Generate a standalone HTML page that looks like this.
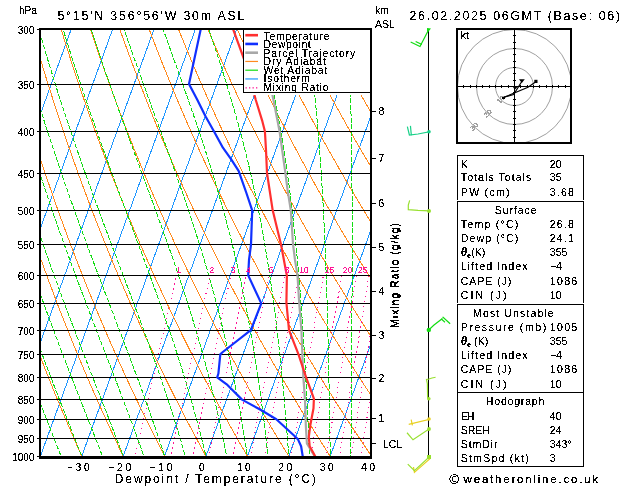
<!DOCTYPE html>
<html><head><meta charset="utf-8"><style>html,body{margin:0;padding:0;background:#fff;overflow:hidden}</style></head><body>
<svg width="629" height="486" viewBox="0 0 629 486" style="display:block">
<defs><filter id="crisp" filterUnits="userSpaceOnUse" x="0" y="0" width="629" height="486" color-interpolation-filters="sRGB"><feComponentTransfer><feFuncA type="discrete" tableValues="0 0 1 1 1"/></feComponentTransfer></filter><filter id="crisp2" x="-20%" y="-50%" width="140%" height="200%" color-interpolation-filters="sRGB"><feComponentTransfer><feFuncA type="discrete" tableValues="0 0 0 1 1 1 1 1 1 1"/></feComponentTransfer></filter><clipPath id="pc"><rect x="41" y="30" width="329" height="426"/></clipPath></defs>
<rect width="629" height="486" fill="#fff"/>
<g clip-path="url(#pc)" fill="none" shape-rendering="crispEdges">
<g stroke="#1e96ff" stroke-width="1"><line x1="-297.08" y1="473.50" x2="-126.97" y2="4.93"/><line x1="-255.68" y1="473.50" x2="-85.57" y2="4.93"/><line x1="-214.28" y1="473.50" x2="-44.17" y2="4.93"/><line x1="-172.88" y1="473.50" x2="-2.77" y2="4.93"/><line x1="-131.48" y1="473.50" x2="38.63" y2="4.93"/><line x1="-90.08" y1="473.50" x2="80.03" y2="4.93"/><line x1="-48.68" y1="473.50" x2="121.43" y2="4.93"/><line x1="-7.28" y1="473.50" x2="162.83" y2="4.93"/><line x1="34.12" y1="473.50" x2="204.23" y2="4.93"/><line x1="75.52" y1="473.50" x2="245.63" y2="4.93"/><line x1="116.92" y1="473.50" x2="287.03" y2="4.93"/><line x1="158.32" y1="473.50" x2="328.43" y2="4.93"/><line x1="199.72" y1="473.50" x2="369.83" y2="4.93"/><line x1="241.12" y1="473.50" x2="411.23" y2="4.93"/><line x1="282.52" y1="473.50" x2="452.63" y2="4.93"/><line x1="323.92" y1="473.50" x2="494.03" y2="4.93"/><line x1="365.32" y1="473.50" x2="535.43" y2="4.93"/></g>
<g stroke="#ff8a1e" stroke-width="1"><polyline points="-162.24,473.50 -163.24,469.56 -164.24,465.62 -165.23,461.68 -166.22,457.75 -167.19,453.81 -168.16,449.87 -169.12,445.93 -170.07,442.00 -171.02,438.06 -171.96,434.12 -172.89,430.18 -173.81,426.25 -174.73,422.31 -175.63,418.37 -176.53,414.43 -177.43,410.50 -178.31,406.56 -179.19,402.62 -180.06,398.68 -180.93,394.75 -181.78,390.81 -182.63,386.87 -183.48,382.93 -184.31,379.00 -185.14,375.06 -185.96,371.12 -186.77,367.18 -187.58,363.25 -188.38,359.31 -189.17,355.37 -189.96,351.43 -190.74,347.50 -191.51,343.56 -192.27,339.62 -193.03,335.68 -193.78,331.75 -194.52,327.81 -195.26,323.87 -195.99,319.93 -196.71,316.00 -197.43,312.06 -198.14,308.12 -198.84,304.18 -199.54,300.25 -200.23,296.31 -200.91,292.37 -201.58,288.43 -202.25,284.50 -202.92,280.56 -203.57,276.62 -204.22,272.68 -204.86,268.75 -205.50,264.81 -206.13,260.87 -206.75,256.93 -207.37,253.00 -207.98,249.06 -208.58,245.12 -209.18,241.18 -209.77,237.25 -210.35,233.31 -210.93,229.37 -211.50,225.43 -212.07,221.50 -212.63,217.56 -213.18,213.62 -213.72,209.68 -214.26,205.75 -214.80,201.81 -215.33,197.87 -215.85,193.93 -216.36,190.00 -216.87,186.06 -217.37,182.12 -217.87,178.18 -218.36,174.25 -218.85,170.31 -219.32,166.37 -219.80,162.43 -220.26,158.50 -220.72,154.56 -221.18,150.62 -221.63,146.68 -222.07,142.75 -222.51,138.81 -222.94,134.87 -223.36,130.93 -223.78,127.00 -224.19,123.06 -224.60,119.12 -225.00,115.18 -225.40,111.25 -225.79,107.31 -226.17,103.37 -226.55,99.43 -226.92,95.50 -227.29,91.56 -227.65,87.62 -228.00,83.68 -228.35,79.75 -228.70,75.81 -229.04,71.87 -229.37,67.93 -229.70,64.00 -230.02,60.06 -230.34,56.12 -230.65,52.18 -230.95,48.25 -231.25,44.31 -231.55,40.37 -231.83,36.43 -232.12,32.50 -232.40,28.56 -232.67,24.62 -232.94,20.68 -233.20,16.75 -233.45,12.81 -233.70,8.87 -233.95,4.93"/><polyline points="-120.25,473.50 -121.39,469.56 -122.53,465.62 -123.65,461.68 -124.76,457.75 -125.87,453.81 -126.97,449.87 -128.06,445.93 -129.14,442.00 -130.22,438.06 -131.29,434.12 -132.35,430.18 -133.40,426.25 -134.44,422.31 -135.48,418.37 -136.51,414.43 -137.53,410.50 -138.54,406.56 -139.54,402.62 -140.54,398.68 -141.53,394.75 -142.51,390.81 -143.48,386.87 -144.45,382.93 -145.41,379.00 -146.36,375.06 -147.30,371.12 -148.24,367.18 -149.17,363.25 -150.09,359.31 -151.00,355.37 -151.91,351.43 -152.81,347.50 -153.70,343.56 -154.58,339.62 -155.46,335.68 -156.33,331.75 -157.19,327.81 -158.05,323.87 -158.90,319.93 -159.74,316.00 -160.57,312.06 -161.40,308.12 -162.21,304.18 -163.03,300.25 -163.83,296.31 -164.63,292.37 -165.42,288.43 -166.20,284.50 -166.98,280.56 -167.75,276.62 -168.51,272.68 -169.27,268.75 -170.02,264.81 -170.76,260.87 -171.49,256.93 -172.22,253.00 -172.94,249.06 -173.66,245.12 -174.36,241.18 -175.07,237.25 -175.76,233.31 -176.45,229.37 -177.13,225.43 -177.80,221.50 -178.47,217.56 -179.13,213.62 -179.78,209.68 -180.43,205.75 -181.07,201.81 -181.71,197.87 -182.33,193.93 -182.96,190.00 -183.57,186.06 -184.18,182.12 -184.78,178.18 -185.38,174.25 -185.97,170.31 -186.55,166.37 -187.12,162.43 -187.69,158.50 -188.26,154.56 -188.82,150.62 -189.37,146.68 -189.91,142.75 -190.45,138.81 -190.98,134.87 -191.51,130.93 -192.03,127.00 -192.54,123.06 -193.05,119.12 -193.55,115.18 -194.05,111.25 -194.53,107.31 -195.02,103.37 -195.49,99.43 -195.97,95.50 -196.43,91.56 -196.89,87.62 -197.34,83.68 -197.79,79.75 -198.23,75.81 -198.66,71.87 -199.09,67.93 -199.52,64.00 -199.93,60.06 -200.35,56.12 -200.75,52.18 -201.15,48.25 -201.55,44.31 -201.93,40.37 -202.32,36.43 -202.69,32.50 -203.06,28.56 -203.43,24.62 -203.79,20.68 -204.14,16.75 -204.49,12.81 -204.84,8.87 -205.17,4.93"/><polyline points="-78.27,473.50 -79.55,469.56 -80.81,465.62 -82.07,461.68 -83.31,457.75 -84.55,453.81 -85.78,449.87 -87.00,445.93 -88.22,442.00 -89.42,438.06 -90.62,434.12 -91.81,430.18 -92.99,426.25 -94.16,422.31 -95.32,418.37 -96.48,414.43 -97.62,410.50 -98.76,406.56 -99.89,402.62 -101.01,398.68 -102.13,394.75 -103.24,390.81 -104.33,386.87 -105.42,382.93 -106.51,379.00 -107.58,375.06 -108.65,371.12 -109.71,367.18 -110.76,363.25 -111.80,359.31 -112.83,355.37 -113.86,351.43 -114.88,347.50 -115.89,343.56 -116.90,339.62 -117.89,335.68 -118.88,331.75 -119.86,327.81 -120.84,323.87 -121.80,319.93 -122.76,316.00 -123.71,312.06 -124.65,308.12 -125.59,304.18 -126.52,300.25 -127.44,296.31 -128.35,292.37 -129.26,288.43 -130.15,284.50 -131.04,280.56 -131.93,276.62 -132.80,272.68 -133.67,268.75 -134.53,264.81 -135.39,260.87 -136.24,256.93 -137.08,253.00 -137.91,249.06 -138.73,245.12 -139.55,241.18 -140.36,237.25 -141.17,233.31 -141.96,229.37 -142.75,225.43 -143.54,221.50 -144.31,217.56 -145.08,213.62 -145.84,209.68 -146.60,205.75 -147.35,201.81 -148.09,197.87 -148.82,193.93 -149.55,190.00 -150.27,186.06 -150.98,182.12 -151.69,178.18 -152.39,174.25 -153.09,170.31 -153.77,166.37 -154.45,162.43 -155.13,158.50 -155.79,154.56 -156.45,150.62 -157.11,146.68 -157.75,142.75 -158.39,138.81 -159.03,134.87 -159.65,130.93 -160.28,127.00 -160.89,123.06 -161.50,119.12 -162.10,115.18 -162.69,111.25 -163.28,107.31 -163.86,103.37 -164.44,99.43 -165.01,95.50 -165.57,91.56 -166.13,87.62 -166.68,83.68 -167.22,79.75 -167.76,75.81 -168.29,71.87 -168.82,67.93 -169.34,64.00 -169.85,60.06 -170.36,56.12 -170.86,52.18 -171.35,48.25 -171.84,44.31 -172.32,40.37 -172.80,36.43 -173.27,32.50 -173.73,28.56 -174.19,24.62 -174.64,20.68 -175.09,16.75 -175.53,12.81 -175.97,8.87 -176.39,4.93"/><polyline points="-36.29,473.50 -37.70,469.56 -39.09,465.62 -40.48,461.68 -41.86,457.75 -43.23,453.81 -44.59,449.87 -45.94,445.93 -47.29,442.00 -48.62,438.06 -49.95,434.12 -51.26,430.18 -52.57,426.25 -53.87,422.31 -55.16,418.37 -56.45,414.43 -57.72,410.50 -58.98,406.56 -60.24,402.62 -61.49,398.68 -62.73,394.75 -63.96,390.81 -65.18,386.87 -66.40,382.93 -67.60,379.00 -68.80,375.06 -69.99,371.12 -71.17,367.18 -72.34,363.25 -73.51,359.31 -74.67,355.37 -75.81,351.43 -76.95,347.50 -78.09,343.56 -79.21,339.62 -80.33,335.68 -81.43,331.75 -82.53,327.81 -83.62,323.87 -84.71,319.93 -85.78,316.00 -86.85,312.06 -87.91,308.12 -88.96,304.18 -90.01,300.25 -91.04,296.31 -92.07,292.37 -93.09,288.43 -94.10,284.50 -95.11,280.56 -96.11,276.62 -97.10,272.68 -98.08,268.75 -99.05,264.81 -100.02,260.87 -100.98,256.93 -101.93,253.00 -102.87,249.06 -103.81,245.12 -104.74,241.18 -105.66,237.25 -106.57,233.31 -107.48,229.37 -108.38,225.43 -109.27,221.50 -110.16,217.56 -111.03,213.62 -111.90,209.68 -112.77,205.75 -113.62,201.81 -114.47,197.87 -115.31,193.93 -116.14,190.00 -116.97,186.06 -117.79,182.12 -118.60,178.18 -119.41,174.25 -120.21,170.31 -121.00,166.37 -121.78,162.43 -122.56,158.50 -123.33,154.56 -124.09,150.62 -124.85,146.68 -125.60,142.75 -126.34,138.81 -127.07,134.87 -127.80,130.93 -128.52,127.00 -129.24,123.06 -129.95,119.12 -130.65,115.18 -131.34,111.25 -132.03,107.31 -132.71,103.37 -133.38,99.43 -134.05,95.50 -134.71,91.56 -135.37,87.62 -136.02,83.68 -136.66,79.75 -137.29,75.81 -137.92,71.87 -138.54,67.93 -139.16,64.00 -139.77,60.06 -140.37,56.12 -140.96,52.18 -141.55,48.25 -142.14,44.31 -142.71,40.37 -143.28,36.43 -143.85,32.50 -144.40,28.56 -144.95,24.62 -145.50,20.68 -146.04,16.75 -146.57,12.81 -147.10,8.87 -147.62,4.93"/><polyline points="5.69,473.50 4.15,469.56 2.62,465.62 1.10,461.68 -0.41,457.75 -1.91,453.81 -3.40,449.87 -4.89,445.93 -6.36,442.00 -7.82,438.06 -9.28,434.12 -10.72,430.18 -12.16,426.25 -13.59,422.31 -15.01,418.37 -16.42,414.43 -17.82,410.50 -19.21,406.56 -20.59,402.62 -21.97,398.68 -23.33,394.75 -24.69,390.81 -26.03,386.87 -27.37,382.93 -28.70,379.00 -30.02,375.06 -31.33,371.12 -32.64,367.18 -33.93,363.25 -35.22,359.31 -36.50,355.37 -37.77,351.43 -39.03,347.50 -40.28,343.56 -41.52,339.62 -42.76,335.68 -43.98,331.75 -45.20,327.81 -46.41,323.87 -47.61,319.93 -48.81,316.00 -49.99,312.06 -51.17,308.12 -52.34,304.18 -53.50,300.25 -54.65,296.31 -55.79,292.37 -56.93,288.43 -58.05,284.50 -59.17,280.56 -60.28,276.62 -61.39,272.68 -62.48,268.75 -63.57,264.81 -64.65,260.87 -65.72,256.93 -66.78,253.00 -67.84,249.06 -68.89,245.12 -69.93,241.18 -70.96,237.25 -71.98,233.31 -73.00,229.37 -74.01,225.43 -75.01,221.50 -76.00,217.56 -76.99,213.62 -77.96,209.68 -78.93,205.75 -79.90,201.81 -80.85,197.87 -81.80,193.93 -82.74,190.00 -83.67,186.06 -84.59,182.12 -85.51,178.18 -86.42,174.25 -87.32,170.31 -88.22,166.37 -89.11,162.43 -89.99,158.50 -90.86,154.56 -91.73,150.62 -92.59,146.68 -93.44,142.75 -94.28,138.81 -95.12,134.87 -95.95,130.93 -96.77,127.00 -97.59,123.06 -98.39,119.12 -99.20,115.18 -99.99,111.25 -100.78,107.31 -101.56,103.37 -102.33,99.43 -103.10,95.50 -103.85,91.56 -104.61,87.62 -105.35,83.68 -106.09,79.75 -106.82,75.81 -107.55,71.87 -108.26,67.93 -108.98,64.00 -109.68,60.06 -110.38,56.12 -111.07,52.18 -111.75,48.25 -112.43,44.31 -113.10,40.37 -113.76,36.43 -114.42,32.50 -115.07,28.56 -115.72,24.62 -116.35,20.68 -116.99,16.75 -117.61,12.81 -118.23,8.87 -118.84,4.93"/><polyline points="47.67,473.50 46.00,469.56 44.34,465.62 42.68,461.68 41.04,457.75 39.41,453.81 37.79,449.87 36.17,445.93 34.57,442.00 32.98,438.06 31.39,434.12 29.82,430.18 28.25,426.25 26.70,422.31 25.15,418.37 23.61,414.43 22.09,410.50 20.57,406.56 19.06,402.62 17.56,398.68 16.07,394.75 14.59,390.81 13.12,386.87 11.65,382.93 10.20,379.00 8.76,375.06 7.32,371.12 5.90,367.18 4.48,363.25 3.07,359.31 1.67,355.37 0.28,351.43 -1.10,347.50 -2.47,343.56 -3.83,339.62 -5.19,335.68 -6.53,331.75 -7.87,327.81 -9.20,323.87 -10.52,319.93 -11.83,316.00 -13.13,312.06 -14.42,308.12 -15.71,304.18 -16.99,300.25 -18.25,296.31 -19.51,292.37 -20.76,288.43 -22.00,284.50 -23.24,280.56 -24.46,276.62 -25.68,272.68 -26.89,268.75 -28.09,264.81 -29.28,260.87 -30.46,256.93 -31.64,253.00 -32.80,249.06 -33.96,245.12 -35.11,241.18 -36.25,237.25 -37.39,233.31 -38.51,229.37 -39.63,225.43 -40.74,221.50 -41.84,217.56 -42.94,213.62 -44.02,209.68 -45.10,205.75 -46.17,201.81 -47.23,197.87 -48.29,193.93 -49.33,190.00 -50.37,186.06 -51.40,182.12 -52.42,178.18 -53.44,174.25 -54.44,170.31 -55.44,166.37 -56.44,162.43 -57.42,158.50 -58.40,154.56 -59.36,150.62 -60.33,146.68 -61.28,142.75 -62.23,138.81 -63.16,134.87 -64.09,130.93 -65.02,127.00 -65.93,123.06 -66.84,119.12 -67.74,115.18 -68.64,111.25 -69.52,107.31 -70.40,103.37 -71.27,99.43 -72.14,95.50 -73.00,91.56 -73.85,87.62 -74.69,83.68 -75.52,79.75 -76.35,75.81 -77.17,71.87 -77.99,67.93 -78.80,64.00 -79.60,60.06 -80.39,56.12 -81.17,52.18 -81.95,48.25 -82.72,44.31 -83.49,40.37 -84.25,36.43 -85.00,32.50 -85.74,28.56 -86.48,24.62 -87.21,20.68 -87.93,16.75 -88.65,12.81 -89.36,8.87 -90.06,4.93"/><polyline points="89.65,473.50 87.85,469.56 86.05,465.62 84.27,461.68 82.49,457.75 80.73,453.81 78.98,449.87 77.23,445.93 75.50,442.00 73.78,438.06 72.06,434.12 70.36,430.18 68.66,426.25 66.98,422.31 65.31,418.37 63.64,414.43 61.99,410.50 60.34,406.56 58.71,402.62 57.08,398.68 55.47,394.75 53.86,390.81 52.27,386.87 50.68,382.93 49.10,379.00 47.54,375.06 45.98,371.12 44.43,367.18 42.89,363.25 41.36,359.31 39.84,355.37 38.33,351.43 36.83,347.50 35.34,343.56 33.85,339.62 32.38,335.68 30.91,331.75 29.46,327.81 28.01,323.87 26.58,319.93 25.15,316.00 23.73,312.06 22.32,308.12 20.92,304.18 19.53,300.25 18.14,296.31 16.77,292.37 15.40,288.43 14.05,284.50 12.70,280.56 11.36,276.62 10.03,272.68 8.71,268.75 7.40,264.81 6.09,260.87 4.80,256.93 3.51,253.00 2.23,249.06 0.96,245.12 -0.30,241.18 -1.55,237.25 -2.80,233.31 -4.03,229.37 -5.26,225.43 -6.48,221.50 -7.69,217.56 -8.89,213.62 -10.08,209.68 -11.27,205.75 -12.44,201.81 -13.61,197.87 -14.77,193.93 -15.93,190.00 -17.07,186.06 -18.21,182.12 -19.33,178.18 -20.45,174.25 -21.56,170.31 -22.67,166.37 -23.76,162.43 -24.85,158.50 -25.93,154.56 -27.00,150.62 -28.07,146.68 -29.12,142.75 -30.17,138.81 -31.21,134.87 -32.24,130.93 -33.27,127.00 -34.28,123.06 -35.29,119.12 -36.29,115.18 -37.29,111.25 -38.27,107.31 -39.25,103.37 -40.22,99.43 -41.18,95.50 -42.14,91.56 -43.09,87.62 -44.03,83.68 -44.96,79.75 -45.88,75.81 -46.80,71.87 -47.71,67.93 -48.62,64.00 -49.51,60.06 -50.40,56.12 -51.28,52.18 -52.15,48.25 -53.02,44.31 -53.88,40.37 -54.73,36.43 -55.57,32.50 -56.41,28.56 -57.24,24.62 -58.06,20.68 -58.88,16.75 -59.69,12.81 -60.49,8.87 -61.28,4.93"/><polyline points="131.63,473.50 129.69,469.56 127.77,465.62 125.85,461.68 123.95,457.75 122.05,453.81 120.17,449.87 118.29,445.93 116.43,442.00 114.57,438.06 112.73,434.12 110.90,430.18 109.08,426.25 107.27,422.31 105.46,418.37 103.67,414.43 101.89,410.50 100.12,406.56 98.36,402.62 96.61,398.68 94.87,394.75 93.14,390.81 91.42,386.87 89.71,382.93 88.01,379.00 86.32,375.06 84.63,371.12 82.96,367.18 81.30,363.25 79.65,359.31 78.01,355.37 76.38,351.43 74.76,347.50 73.14,343.56 71.54,339.62 69.95,335.68 68.36,331.75 66.79,327.81 65.22,323.87 63.67,319.93 62.12,316.00 60.59,312.06 59.06,308.12 57.54,304.18 56.04,300.25 54.54,296.31 53.05,292.37 51.57,288.43 50.10,284.50 48.63,280.56 47.18,276.62 45.74,272.68 44.30,268.75 42.88,264.81 41.46,260.87 40.05,256.93 38.66,253.00 37.27,249.06 35.89,245.12 34.51,241.18 33.15,237.25 31.80,233.31 30.45,229.37 29.12,225.43 27.79,221.50 26.47,217.56 25.16,213.62 23.86,209.68 22.57,205.75 21.28,201.81 20.01,197.87 18.74,193.93 17.48,190.00 16.23,186.06 14.99,182.12 13.76,178.18 12.53,174.25 11.32,170.31 10.11,166.37 8.91,162.43 7.72,158.50 6.54,154.56 5.36,150.62 4.19,146.68 3.04,142.75 1.89,138.81 0.75,134.87 -0.39,130.93 -1.51,127.00 -2.63,123.06 -3.74,119.12 -4.84,115.18 -5.93,111.25 -7.02,107.31 -8.10,103.37 -9.17,99.43 -10.23,95.50 -11.28,91.56 -12.33,87.62 -13.36,83.68 -14.39,79.75 -15.41,75.81 -16.43,71.87 -17.44,67.93 -18.43,64.00 -19.43,60.06 -20.41,56.12 -21.39,52.18 -22.35,48.25 -23.31,44.31 -24.27,40.37 -25.21,36.43 -26.15,32.50 -27.08,28.56 -28.00,24.62 -28.92,20.68 -29.83,16.75 -30.73,12.81 -31.62,8.87 -32.51,4.93"/><polyline points="173.61,473.50 171.54,469.56 169.48,465.62 167.43,461.68 165.40,457.75 163.37,453.81 161.36,449.87 159.35,445.93 157.36,442.00 155.37,438.06 153.40,434.12 151.44,430.18 149.49,426.25 147.55,422.31 145.62,418.37 143.70,414.43 141.79,410.50 139.90,406.56 138.01,402.62 136.13,398.68 134.27,394.75 132.41,390.81 130.57,386.87 128.73,382.93 126.91,379.00 125.09,375.06 123.29,371.12 121.50,367.18 119.71,363.25 117.94,359.31 116.18,355.37 114.43,351.43 112.68,347.50 110.95,343.56 109.23,339.62 107.52,335.68 105.81,331.75 104.12,327.81 102.44,323.87 100.76,319.93 99.10,316.00 97.45,312.06 95.80,308.12 94.17,304.18 92.55,300.25 90.93,296.31 89.33,292.37 87.73,288.43 86.15,284.50 84.57,280.56 83.00,276.62 81.45,272.68 79.90,268.75 78.36,264.81 76.83,260.87 75.31,256.93 73.80,253.00 72.30,249.06 70.81,245.12 69.33,241.18 67.85,237.25 66.39,233.31 64.94,229.37 63.49,225.43 62.05,221.50 60.63,217.56 59.21,213.62 57.80,209.68 56.40,205.75 55.01,201.81 53.62,197.87 52.25,193.93 50.89,190.00 49.53,186.06 48.18,182.12 46.85,178.18 45.52,174.25 44.20,170.31 42.88,166.37 41.58,162.43 40.29,158.50 39.00,154.56 37.72,150.62 36.46,146.68 35.19,142.75 33.94,138.81 32.70,134.87 31.47,130.93 30.24,127.00 29.02,123.06 27.81,119.12 26.61,115.18 25.42,111.25 24.23,107.31 23.06,103.37 21.89,99.43 20.73,95.50 19.58,91.56 18.44,87.62 17.30,83.68 16.17,79.75 15.05,75.81 13.94,71.87 12.84,67.93 11.75,64.00 10.66,60.06 9.58,56.12 8.51,52.18 7.45,48.25 6.39,44.31 5.34,40.37 4.31,36.43 3.27,32.50 2.25,28.56 1.23,24.62 0.23,20.68 -0.77,16.75 -1.77,12.81 -2.75,8.87 -3.73,4.93"/><polyline points="215.59,473.50 213.39,469.56 211.20,465.62 209.02,461.68 206.85,457.75 204.69,453.81 202.54,449.87 200.41,445.93 198.29,442.00 196.17,438.06 194.07,434.12 191.98,430.18 189.90,426.25 187.83,422.31 185.78,418.37 183.73,414.43 181.70,410.50 179.67,406.56 177.66,402.62 175.66,398.68 173.67,394.75 171.69,390.81 169.72,386.87 167.76,382.93 165.81,379.00 163.87,375.06 161.95,371.12 160.03,367.18 158.13,363.25 156.23,359.31 154.35,355.37 152.47,351.43 150.61,347.50 148.76,343.56 146.92,339.62 145.08,335.68 143.26,331.75 141.45,327.81 139.65,323.87 137.86,319.93 136.08,316.00 134.31,312.06 132.55,308.12 130.80,304.18 129.06,300.25 127.33,296.31 125.61,292.37 123.90,288.43 122.20,284.50 120.50,280.56 118.82,276.62 117.15,272.68 115.49,268.75 113.84,264.81 112.20,260.87 110.57,256.93 108.95,253.00 107.34,249.06 105.73,245.12 104.14,241.18 102.56,237.25 100.98,233.31 99.42,229.37 97.86,225.43 96.32,221.50 94.78,217.56 93.26,213.62 91.74,209.68 90.23,205.75 88.73,201.81 87.24,197.87 85.76,193.93 84.29,190.00 82.83,186.06 81.38,182.12 79.94,178.18 78.50,174.25 77.08,170.31 75.66,166.37 74.25,162.43 72.86,158.50 71.47,154.56 70.09,150.62 68.72,146.68 67.35,142.75 66.00,138.81 64.65,134.87 63.32,130.93 61.99,127.00 60.67,123.06 59.36,119.12 58.06,115.18 56.77,111.25 55.49,107.31 54.21,103.37 52.94,99.43 51.69,95.50 50.44,91.56 49.20,87.62 47.96,83.68 46.74,79.75 45.52,75.81 44.32,71.87 43.12,67.93 41.93,64.00 40.74,60.06 39.57,56.12 38.40,52.18 37.25,48.25 36.10,44.31 34.96,40.37 33.82,36.43 32.70,32.50 31.58,28.56 30.47,24.62 29.37,20.68 28.28,16.75 27.19,12.81 26.12,8.87 25.05,4.93"/><polyline points="257.58,473.50 255.24,469.56 252.91,465.62 250.60,461.68 248.30,457.75 246.01,453.81 243.73,449.87 241.47,445.93 239.21,442.00 236.97,438.06 234.74,434.12 232.52,430.18 230.31,426.25 228.12,422.31 225.93,418.37 223.76,414.43 221.60,410.50 219.45,406.56 217.31,402.62 215.18,398.68 213.07,394.75 210.96,390.81 208.87,386.87 206.79,382.93 204.71,379.00 202.65,375.06 200.60,371.12 198.57,367.18 196.54,363.25 194.52,359.31 192.52,355.37 190.52,351.43 188.54,347.50 186.56,343.56 184.60,339.62 182.65,335.68 180.71,331.75 178.78,327.81 176.86,323.87 174.95,319.93 173.05,316.00 171.17,312.06 169.29,308.12 167.42,304.18 165.57,300.25 163.72,296.31 161.88,292.37 160.06,288.43 158.24,284.50 156.44,280.56 154.65,276.62 152.86,272.68 151.09,268.75 149.32,264.81 147.57,260.87 145.83,256.93 144.09,253.00 142.37,249.06 140.66,245.12 138.95,241.18 137.26,237.25 135.58,233.31 133.90,229.37 132.24,225.43 130.58,221.50 128.94,217.56 127.30,213.62 125.68,209.68 124.06,205.75 122.46,201.81 120.86,197.87 119.28,193.93 117.70,190.00 116.13,186.06 114.57,182.12 113.03,178.18 111.49,174.25 109.96,170.31 108.44,166.37 106.93,162.43 105.42,158.50 103.93,154.56 102.45,150.62 100.98,146.68 99.51,142.75 98.06,138.81 96.61,134.87 95.17,130.93 93.74,127.00 92.32,123.06 90.91,119.12 89.51,115.18 88.12,111.25 86.74,107.31 85.36,103.37 84.00,99.43 82.64,95.50 81.30,91.56 79.96,87.62 78.63,83.68 77.31,79.75 75.99,75.81 74.69,71.87 73.39,67.93 72.11,64.00 70.83,60.06 69.56,56.12 68.30,52.18 67.05,48.25 65.80,44.31 64.57,40.37 63.34,36.43 62.12,32.50 60.91,28.56 59.71,24.62 58.52,20.68 57.33,16.75 56.15,12.81 54.99,8.87 53.83,4.93"/><polyline points="299.56,473.50 297.09,469.56 294.63,465.62 292.18,461.68 289.75,457.75 287.33,453.81 284.92,449.87 282.53,445.93 280.14,442.00 277.77,438.06 275.41,434.12 273.06,430.18 270.73,426.25 268.40,422.31 266.09,418.37 263.79,414.43 261.50,410.50 259.23,406.56 256.96,402.62 254.71,398.68 252.47,394.75 250.24,390.81 248.02,386.87 245.81,382.93 243.62,379.00 241.43,375.06 239.26,371.12 237.10,367.18 234.95,363.25 232.81,359.31 230.69,355.37 228.57,351.43 226.47,347.50 224.37,343.56 222.29,339.62 220.22,335.68 218.16,331.75 216.11,327.81 214.07,323.87 212.05,319.93 210.03,316.00 208.03,312.06 206.03,308.12 204.05,304.18 202.08,300.25 200.11,296.31 198.16,292.37 196.22,288.43 194.29,284.50 192.38,280.56 190.47,276.62 188.57,272.68 186.68,268.75 184.81,264.81 182.94,260.87 181.08,256.93 179.24,253.00 177.40,249.06 175.58,245.12 173.77,241.18 171.96,237.25 170.17,233.31 168.39,229.37 166.61,225.43 164.85,221.50 163.10,217.56 161.35,213.62 159.62,209.68 157.90,205.75 156.18,201.81 154.48,197.87 152.79,193.93 151.11,190.00 149.43,186.06 147.77,182.12 146.12,178.18 144.47,174.25 142.84,170.31 141.21,166.37 139.60,162.43 137.99,158.50 136.40,154.56 134.81,150.62 133.24,146.68 131.67,142.75 130.11,138.81 128.56,134.87 127.03,130.93 125.50,127.00 123.98,123.06 122.47,119.12 120.97,115.18 119.47,111.25 117.99,107.31 116.52,103.37 115.05,99.43 113.60,95.50 112.15,91.56 110.72,87.62 109.29,83.68 107.87,79.75 106.46,75.81 105.06,71.87 103.67,67.93 102.29,64.00 100.91,60.06 99.55,56.12 98.19,52.18 96.85,48.25 95.51,44.31 94.18,40.37 92.86,36.43 91.55,32.50 90.24,28.56 88.95,24.62 87.66,20.68 86.38,16.75 85.11,12.81 83.85,8.87 82.60,4.93"/><polyline points="341.54,473.50 338.94,469.56 336.35,465.62 333.77,461.68 331.20,457.75 328.65,453.81 326.11,449.87 323.59,445.93 321.07,442.00 318.57,438.06 316.08,434.12 313.60,430.18 311.14,426.25 308.69,422.31 306.25,418.37 303.82,414.43 301.41,410.50 299.00,406.56 296.61,402.62 294.23,398.68 291.87,394.75 289.51,390.81 287.17,386.87 284.84,382.93 282.52,379.00 280.21,375.06 277.92,371.12 275.63,367.18 273.36,363.25 271.10,359.31 268.85,355.37 266.62,351.43 264.39,347.50 262.18,343.56 259.98,339.62 257.79,335.68 255.61,331.75 253.44,327.81 251.29,323.87 249.14,319.93 247.01,316.00 244.89,312.06 242.77,308.12 240.68,304.18 238.59,300.25 236.51,296.31 234.44,292.37 232.39,288.43 230.34,284.50 228.31,280.56 226.29,276.62 224.28,272.68 222.28,268.75 220.29,264.81 218.31,260.87 216.34,256.93 214.39,253.00 212.44,249.06 210.50,245.12 208.58,241.18 206.67,237.25 204.76,233.31 202.87,229.37 200.99,225.43 199.11,221.50 197.25,217.56 195.40,213.62 193.56,209.68 191.73,205.75 189.91,201.81 188.10,197.87 186.30,193.93 184.51,190.00 182.73,186.06 180.96,182.12 179.20,178.18 177.46,174.25 175.72,170.31 173.99,166.37 172.27,162.43 170.56,158.50 168.86,154.56 167.17,150.62 165.50,146.68 163.83,142.75 162.17,138.81 160.52,134.87 158.88,130.93 157.25,127.00 155.63,123.06 154.02,119.12 152.42,115.18 150.83,111.25 149.24,107.31 147.67,103.37 146.11,99.43 144.56,95.50 143.01,91.56 141.48,87.62 139.95,83.68 138.44,79.75 136.93,75.81 135.43,71.87 133.95,67.93 132.47,64.00 131.00,60.06 129.54,56.12 128.09,52.18 126.65,48.25 125.21,44.31 123.79,40.37 122.37,36.43 120.97,32.50 119.57,28.56 118.19,24.62 116.81,20.68 115.44,16.75 114.08,12.81 112.72,8.87 111.38,4.93"/><polyline points="383.52,473.50 380.78,469.56 378.06,465.62 375.35,461.68 372.66,457.75 369.97,453.81 367.30,449.87 364.64,445.93 362.00,442.00 359.37,438.06 356.75,434.12 354.15,430.18 351.55,426.25 348.97,422.31 346.41,418.37 343.85,414.43 341.31,410.50 338.78,406.56 336.26,402.62 333.76,398.68 331.27,394.75 328.79,390.81 326.32,386.87 323.86,382.93 321.42,379.00 318.99,375.06 316.57,371.12 314.17,367.18 311.77,363.25 309.39,359.31 307.02,355.37 304.67,351.43 302.32,347.50 299.99,343.56 297.67,339.62 295.36,335.68 293.06,331.75 290.77,327.81 288.50,323.87 286.23,319.93 283.98,316.00 281.74,312.06 279.52,308.12 277.30,304.18 275.10,300.25 272.90,296.31 270.72,292.37 268.55,288.43 266.39,284.50 264.25,280.56 262.11,276.62 259.99,272.68 257.87,268.75 255.77,264.81 253.68,260.87 251.60,256.93 249.53,253.00 247.47,249.06 245.43,245.12 243.39,241.18 241.37,237.25 239.35,233.31 237.35,229.37 235.36,225.43 233.38,221.50 231.41,217.56 229.45,213.62 227.50,209.68 225.56,205.75 223.64,201.81 221.72,197.87 219.81,193.93 217.92,190.00 216.03,186.06 214.16,182.12 212.29,178.18 210.44,174.25 208.60,170.31 206.77,166.37 204.94,162.43 203.13,158.50 201.33,154.56 199.54,150.62 197.76,146.68 195.98,142.75 194.22,138.81 192.47,134.87 190.73,130.93 189.00,127.00 187.28,123.06 185.57,119.12 183.87,115.18 182.18,111.25 180.50,107.31 178.83,103.37 177.16,99.43 175.51,95.50 173.87,91.56 172.24,87.62 170.62,83.68 169.00,79.75 167.40,75.81 165.81,71.87 164.22,67.93 162.65,64.00 161.08,60.06 159.53,56.12 157.98,52.18 156.45,48.25 154.92,44.31 153.40,40.37 151.89,36.43 150.39,32.50 148.90,28.56 147.42,24.62 145.95,20.68 144.49,16.75 143.04,12.81 141.59,8.87 140.16,4.93"/><polyline points="425.50,473.50 422.63,469.56 419.78,465.62 416.93,461.68 414.11,457.75 411.29,453.81 408.49,449.87 405.70,445.93 402.93,442.00 400.17,438.06 397.42,434.12 394.69,430.18 391.97,426.25 389.26,422.31 386.56,418.37 383.88,414.43 381.21,410.50 378.56,406.56 375.91,402.62 373.28,398.68 370.67,394.75 368.06,390.81 365.47,386.87 362.89,382.93 360.32,379.00 357.77,375.06 355.23,371.12 352.70,367.18 350.19,363.25 347.68,359.31 345.19,355.37 342.71,351.43 340.25,347.50 337.79,343.56 335.35,339.62 332.92,335.68 330.51,331.75 328.10,327.81 325.71,323.87 323.33,319.93 320.96,316.00 318.60,312.06 316.26,308.12 313.93,304.18 311.61,300.25 309.30,296.31 307.00,292.37 304.72,288.43 302.44,284.50 300.18,280.56 297.93,276.62 295.69,272.68 293.47,268.75 291.25,264.81 289.05,260.87 286.86,256.93 284.68,253.00 282.51,249.06 280.35,245.12 278.21,241.18 276.07,237.25 273.95,233.31 271.84,229.37 269.73,225.43 267.64,221.50 265.57,217.56 263.50,213.62 261.44,209.68 259.40,205.75 257.36,201.81 255.34,197.87 253.33,193.93 251.32,190.00 249.33,186.06 247.35,182.12 245.38,178.18 243.43,174.25 241.48,170.31 239.54,166.37 237.62,162.43 235.70,158.50 233.79,154.56 231.90,150.62 230.02,146.68 228.14,142.75 226.28,138.81 224.43,134.87 222.59,130.93 220.75,127.00 218.93,123.06 217.12,119.12 215.32,115.18 213.53,111.25 211.75,107.31 209.98,103.37 208.22,99.43 206.47,95.50 204.73,91.56 203.00,87.62 201.28,83.68 199.57,79.75 197.87,75.81 196.18,71.87 194.50,67.93 192.83,64.00 191.17,60.06 189.52,56.12 187.88,52.18 186.25,48.25 184.62,44.31 183.01,40.37 181.41,36.43 179.82,32.50 178.23,28.56 176.66,24.62 175.10,20.68 173.54,16.75 172.00,12.81 170.46,8.87 168.94,4.93"/><polyline points="467.48,473.50 464.48,469.56 461.49,465.62 458.52,461.68 455.56,457.75 452.61,453.81 449.68,449.87 446.76,445.93 443.86,442.00 440.97,438.06 438.09,434.12 435.23,430.18 432.38,426.25 429.54,422.31 426.72,418.37 423.91,414.43 421.11,410.50 418.33,406.56 415.56,402.62 412.81,398.68 410.06,394.75 407.34,390.81 404.62,386.87 401.92,382.93 399.23,379.00 396.55,375.06 393.89,371.12 391.24,367.18 388.60,363.25 385.97,359.31 383.36,355.37 380.76,351.43 378.17,347.50 375.60,343.56 373.04,339.62 370.49,335.68 367.96,331.75 365.43,327.81 362.92,323.87 360.42,319.93 357.94,316.00 355.46,312.06 353.00,308.12 350.55,304.18 348.12,300.25 345.69,296.31 343.28,292.37 340.88,288.43 338.49,284.50 336.12,280.56 333.75,276.62 331.40,272.68 329.06,268.75 326.74,264.81 324.42,260.87 322.12,256.93 319.82,253.00 317.54,249.06 315.28,245.12 313.02,241.18 310.77,237.25 308.54,233.31 306.32,229.37 304.11,225.43 301.91,221.50 299.72,217.56 297.55,213.62 295.38,209.68 293.23,205.75 291.09,201.81 288.96,197.87 286.84,193.93 284.73,190.00 282.63,186.06 280.55,182.12 278.47,178.18 276.41,174.25 274.36,170.31 272.32,166.37 270.29,162.43 268.27,158.50 266.26,154.56 264.26,150.62 262.28,146.68 260.30,142.75 258.34,138.81 256.38,134.87 254.44,130.93 252.51,127.00 250.58,123.06 248.67,119.12 246.77,115.18 244.88,111.25 243.00,107.31 241.13,103.37 239.27,99.43 237.43,95.50 235.59,91.56 233.76,87.62 231.94,83.68 230.14,79.75 228.34,75.81 226.55,71.87 224.78,67.93 223.01,64.00 221.25,60.06 219.51,56.12 217.77,52.18 216.05,48.25 214.33,44.31 212.62,40.37 210.93,36.43 209.24,32.50 207.56,28.56 205.90,24.62 204.24,20.68 202.59,16.75 200.96,12.81 199.33,8.87 197.71,4.93"/><polyline points="509.46,473.50 506.33,469.56 503.21,465.62 500.10,461.68 497.01,457.75 493.93,453.81 490.87,449.87 487.82,445.93 484.79,442.00 481.77,438.06 478.76,434.12 475.77,430.18 472.79,426.25 469.83,422.31 466.88,418.37 463.94,414.43 461.02,410.50 458.11,406.56 455.21,402.62 452.33,398.68 449.46,394.75 446.61,390.81 443.77,386.87 440.94,382.93 438.13,379.00 435.33,375.06 432.54,371.12 429.77,367.18 427.01,363.25 424.26,359.31 421.53,355.37 418.81,351.43 416.10,347.50 413.41,343.56 410.73,339.62 408.06,335.68 405.40,331.75 402.76,327.81 400.13,323.87 397.52,319.93 394.91,316.00 392.32,312.06 389.75,308.12 387.18,304.18 384.63,300.25 382.09,296.31 379.56,292.37 377.05,288.43 374.54,284.50 372.05,280.56 369.58,276.62 367.11,272.68 364.66,268.75 362.22,264.81 359.79,260.87 357.37,256.93 354.97,253.00 352.58,249.06 350.20,245.12 347.83,241.18 345.48,237.25 343.13,233.31 340.80,229.37 338.48,225.43 336.17,221.50 333.88,217.56 331.59,213.62 329.32,209.68 327.06,205.75 324.81,201.81 322.58,197.87 320.35,193.93 318.14,190.00 315.93,186.06 313.74,182.12 311.56,178.18 309.40,174.25 307.24,170.31 305.09,166.37 302.96,162.43 300.84,158.50 298.73,154.56 296.63,150.62 294.54,146.68 292.46,142.75 290.39,138.81 288.34,134.87 286.29,130.93 284.26,127.00 282.24,123.06 280.22,119.12 278.22,115.18 276.23,111.25 274.25,107.31 272.29,103.37 270.33,99.43 268.38,95.50 266.45,91.56 264.52,87.62 262.61,83.68 260.70,79.75 258.81,75.81 256.92,71.87 255.05,67.93 253.19,64.00 251.34,60.06 249.50,56.12 247.67,52.18 245.84,48.25 244.03,44.31 242.23,40.37 240.44,36.43 238.66,32.50 236.90,28.56 235.14,24.62 233.39,20.68 231.65,16.75 229.92,12.81 228.20,8.87 226.49,4.93"/><polyline points="551.44,473.50 548.18,469.56 544.92,465.62 541.68,461.68 538.46,457.75 535.25,453.81 532.06,449.87 528.88,445.93 525.72,442.00 522.57,438.06 519.43,434.12 516.31,430.18 513.20,426.25 510.11,422.31 507.03,418.37 503.97,414.43 500.92,410.50 497.88,406.56 494.86,402.62 491.86,398.68 488.86,394.75 485.88,390.81 482.92,386.87 479.97,382.93 477.03,379.00 474.11,375.06 471.20,371.12 468.30,367.18 465.42,363.25 462.55,359.31 459.70,355.37 456.86,351.43 454.03,347.50 451.22,343.56 448.41,339.62 445.63,335.68 442.85,331.75 440.09,327.81 437.35,323.87 434.61,319.93 431.89,316.00 429.18,312.06 426.49,308.12 423.81,304.18 421.14,300.25 418.48,296.31 415.84,292.37 413.21,288.43 410.59,284.50 407.99,280.56 405.40,276.62 402.82,272.68 400.25,268.75 397.70,264.81 395.16,260.87 392.63,256.93 390.12,253.00 387.61,249.06 385.12,245.12 382.64,241.18 380.18,237.25 377.73,233.31 375.28,229.37 372.86,225.43 370.44,221.50 368.04,217.56 365.64,213.62 363.26,209.68 360.89,205.75 358.54,201.81 356.19,197.87 353.86,193.93 351.54,190.00 349.23,186.06 346.94,182.12 344.65,178.18 342.38,174.25 340.12,170.31 337.87,166.37 335.63,162.43 333.41,158.50 331.19,154.56 328.99,150.62 326.80,146.68 324.62,142.75 322.45,138.81 320.29,134.87 318.15,130.93 316.01,127.00 313.89,123.06 311.78,119.12 309.67,115.18 307.59,111.25 305.51,107.31 303.44,103.37 301.38,99.43 299.34,95.50 297.30,91.56 295.28,87.62 293.27,83.68 291.27,79.75 289.28,75.81 287.30,71.87 285.33,67.93 283.37,64.00 281.42,60.06 279.49,56.12 277.56,52.18 275.64,48.25 273.74,44.31 271.85,40.37 269.96,36.43 268.09,32.50 266.23,28.56 264.37,24.62 262.53,20.68 260.70,16.75 258.88,12.81 257.07,8.87 255.27,4.93"/><polyline points="593.42,473.50 590.02,469.56 586.64,465.62 583.27,461.68 579.91,457.75 576.57,453.81 573.25,449.87 569.94,445.93 566.64,442.00 563.36,438.06 560.10,434.12 556.85,430.18 553.62,426.25 550.40,422.31 547.19,418.37 544.00,414.43 540.82,410.50 537.66,406.56 534.51,402.62 531.38,398.68 528.26,394.75 525.16,390.81 522.07,386.87 519.00,382.93 515.93,379.00 512.89,375.06 509.86,371.12 506.84,367.18 503.83,363.25 500.84,359.31 497.87,355.37 494.91,351.43 491.96,347.50 489.02,343.56 486.10,339.62 483.20,335.68 480.30,331.75 477.42,327.81 474.56,323.87 471.71,319.93 468.87,316.00 466.04,312.06 463.23,308.12 460.43,304.18 457.65,300.25 454.88,296.31 452.12,292.37 449.37,288.43 446.64,284.50 443.92,280.56 441.22,276.62 438.53,272.68 435.85,268.75 433.18,264.81 430.53,260.87 427.89,256.93 425.26,253.00 422.65,249.06 420.05,245.12 417.46,241.18 414.88,237.25 412.32,233.31 409.77,229.37 407.23,225.43 404.70,221.50 402.19,217.56 399.69,213.62 397.20,209.68 394.73,205.75 392.26,201.81 389.81,197.87 387.38,193.93 384.95,190.00 382.53,186.06 380.13,182.12 377.74,178.18 375.37,174.25 373.00,170.31 370.65,166.37 368.30,162.43 365.97,158.50 363.66,154.56 361.35,150.62 359.06,146.68 356.77,142.75 354.50,138.81 352.25,134.87 350.00,130.93 347.76,127.00 345.54,123.06 343.33,119.12 341.13,115.18 338.94,111.25 336.76,107.31 334.59,103.37 332.44,99.43 330.29,95.50 328.16,91.56 326.04,87.62 323.93,83.68 321.83,79.75 319.75,75.81 317.67,71.87 315.60,67.93 313.55,64.00 311.51,60.06 309.48,56.12 307.45,52.18 305.44,48.25 303.45,44.31 301.46,40.37 299.48,36.43 297.51,32.50 295.56,28.56 293.61,24.62 291.68,20.68 289.75,16.75 287.84,12.81 285.94,8.87 284.05,4.93"/><polyline points="635.41,473.50 631.87,469.56 628.35,465.62 624.85,461.68 621.36,457.75 617.89,453.81 614.44,449.87 611.00,445.93 607.57,442.00 604.16,438.06 600.77,434.12 597.39,430.18 594.03,426.25 590.68,422.31 587.35,418.37 584.03,414.43 580.73,410.50 577.44,406.56 574.16,402.62 570.91,398.68 567.66,394.75 564.43,390.81 561.22,386.87 558.02,382.93 554.84,379.00 551.67,375.06 548.51,371.12 545.37,367.18 542.25,363.25 539.13,359.31 536.04,355.37 532.95,351.43 529.88,347.50 526.83,343.56 523.79,339.62 520.76,335.68 517.75,331.75 514.75,327.81 511.77,323.87 508.80,319.93 505.84,316.00 502.90,312.06 499.97,308.12 497.06,304.18 494.16,300.25 491.27,296.31 488.40,292.37 485.54,288.43 482.69,284.50 479.86,280.56 477.04,276.62 474.24,272.68 471.44,268.75 468.67,264.81 465.90,260.87 463.15,256.93 460.41,253.00 457.68,249.06 454.97,245.12 452.27,241.18 449.58,237.25 446.91,233.31 444.25,229.37 441.60,225.43 438.97,221.50 436.35,217.56 433.74,213.62 431.14,209.68 428.56,205.75 425.99,201.81 423.43,197.87 420.89,193.93 418.35,190.00 415.83,186.06 413.33,182.12 410.83,178.18 408.35,174.25 405.88,170.31 403.42,166.37 400.98,162.43 398.54,158.50 396.12,154.56 393.71,150.62 391.32,146.68 388.93,142.75 386.56,138.81 384.20,134.87 381.85,130.93 379.52,127.00 377.19,123.06 374.88,119.12 372.58,115.18 370.29,111.25 368.01,107.31 365.75,103.37 363.49,99.43 361.25,95.50 359.02,91.56 356.80,87.62 354.59,83.68 352.40,79.75 350.21,75.81 348.04,71.87 345.88,67.93 343.73,64.00 341.59,60.06 339.46,56.12 337.35,52.18 335.24,48.25 333.15,44.31 331.07,40.37 329.00,36.43 326.94,32.50 324.89,28.56 322.85,24.62 320.82,20.68 318.81,16.75 316.80,12.81 314.81,8.87 312.82,4.93"/><polyline points="677.39,473.50 673.72,469.56 670.07,465.62 666.43,461.68 662.82,457.75 659.21,453.81 655.63,449.87 652.06,445.93 648.50,442.00 644.96,438.06 641.44,434.12 637.93,430.18 634.44,426.25 630.96,422.31 627.50,418.37 624.06,414.43 620.63,410.50 617.21,406.56 613.81,402.62 610.43,398.68 607.06,394.75 603.71,390.81 600.37,386.87 597.05,382.93 593.74,379.00 590.45,375.06 587.17,371.12 583.91,367.18 580.66,363.25 577.42,359.31 574.21,355.37 571.00,351.43 567.81,347.50 564.64,343.56 561.48,339.62 558.33,335.68 555.20,331.75 552.08,327.81 548.98,323.87 545.89,319.93 542.82,316.00 539.76,312.06 536.72,308.12 533.69,304.18 530.67,300.25 527.67,296.31 524.68,292.37 521.70,288.43 518.74,284.50 515.80,280.56 512.86,276.62 509.94,272.68 507.04,268.75 504.15,264.81 501.27,260.87 498.41,256.93 495.55,253.00 492.72,249.06 489.89,245.12 487.08,241.18 484.29,237.25 481.50,233.31 478.73,229.37 475.98,225.43 473.23,221.50 470.50,217.56 467.79,213.62 465.08,209.68 462.39,205.75 459.72,201.81 457.05,197.87 454.40,193.93 451.76,190.00 449.14,186.06 446.52,182.12 443.92,178.18 441.33,174.25 438.76,170.31 436.20,166.37 433.65,162.43 431.11,158.50 428.59,154.56 426.08,150.62 423.58,146.68 421.09,142.75 418.62,138.81 416.15,134.87 413.71,130.93 411.27,127.00 408.84,123.06 406.43,119.12 404.03,115.18 401.64,111.25 399.26,107.31 396.90,103.37 394.55,99.43 392.21,95.50 389.88,91.56 387.56,87.62 385.26,83.68 382.96,79.75 380.68,75.81 378.41,71.87 376.16,67.93 373.91,64.00 371.68,60.06 369.45,56.12 367.24,52.18 365.04,48.25 362.86,44.31 360.68,40.37 358.51,36.43 356.36,32.50 354.22,28.56 352.09,24.62 349.97,20.68 347.86,16.75 345.76,12.81 343.68,8.87 341.60,4.93"/><polyline points="719.37,473.50 715.57,469.56 711.78,465.62 708.02,461.68 704.27,457.75 700.53,453.81 696.82,449.87 693.12,445.93 689.43,442.00 685.76,438.06 682.11,434.12 678.47,430.18 674.85,426.25 671.25,422.31 667.66,418.37 664.09,414.43 660.53,410.50 656.99,406.56 653.47,402.62 649.96,398.68 646.46,394.75 642.98,390.81 639.52,386.87 636.07,382.93 632.64,379.00 629.23,375.06 625.83,371.12 622.44,367.18 619.07,363.25 615.71,359.31 612.37,355.37 609.05,351.43 605.74,347.50 602.44,343.56 599.16,339.62 595.90,335.68 592.65,331.75 589.41,327.81 586.19,323.87 582.99,319.93 579.80,316.00 576.62,312.06 573.46,308.12 570.31,304.18 567.18,300.25 564.06,296.31 560.96,292.37 557.87,288.43 554.79,284.50 551.73,280.56 548.68,276.62 545.65,272.68 542.63,268.75 539.63,264.81 536.64,260.87 533.66,256.93 530.70,253.00 527.75,249.06 524.82,245.12 521.90,241.18 518.99,237.25 516.10,233.31 513.22,229.37 510.35,225.43 507.50,221.50 504.66,217.56 501.84,213.62 499.02,209.68 496.23,205.75 493.44,201.81 490.67,197.87 487.91,193.93 485.17,190.00 482.44,186.06 479.72,182.12 477.01,178.18 474.32,174.25 471.64,170.31 468.97,166.37 466.32,162.43 463.68,158.50 461.05,154.56 458.44,150.62 455.84,146.68 453.25,142.75 450.67,138.81 448.11,134.87 445.56,130.93 443.02,127.00 440.49,123.06 437.98,119.12 435.48,115.18 432.99,111.25 430.52,107.31 428.05,103.37 425.60,99.43 423.16,95.50 420.74,91.56 418.32,87.62 415.92,83.68 413.53,79.75 411.15,75.81 408.79,71.87 406.43,67.93 404.09,64.00 401.76,60.06 399.44,56.12 397.14,52.18 394.84,48.25 392.56,44.31 390.29,40.37 388.03,36.43 385.78,32.50 383.55,28.56 381.32,24.62 379.11,20.68 376.91,16.75 374.72,12.81 372.54,8.87 370.38,4.93"/><polyline points="761.35,473.50 757.42,469.56 753.50,465.62 749.60,461.68 745.72,457.75 741.85,453.81 738.01,449.87 734.17,445.93 730.36,442.00 726.56,438.06 722.78,434.12 719.01,430.18 715.27,426.25 711.53,422.31 707.82,418.37 704.12,414.43 700.43,410.50 696.77,406.56 693.12,402.62 689.48,398.68 685.86,394.75 682.26,390.81 678.67,386.87 675.10,382.93 671.54,379.00 668.01,375.06 664.48,371.12 660.97,367.18 657.48,363.25 654.00,359.31 650.54,355.37 647.10,351.43 643.67,347.50 640.25,343.56 636.85,339.62 633.47,335.68 630.10,331.75 626.74,327.81 623.41,323.87 620.08,319.93 616.77,316.00 613.48,312.06 610.20,308.12 606.94,304.18 603.69,300.25 600.46,296.31 597.24,292.37 594.03,288.43 590.84,284.50 587.67,280.56 584.51,276.62 581.36,272.68 578.23,268.75 575.11,264.81 572.01,260.87 568.92,256.93 565.85,253.00 562.79,249.06 559.74,245.12 556.71,241.18 553.69,237.25 550.69,233.31 547.70,229.37 544.73,225.43 541.77,221.50 538.82,217.56 535.88,213.62 532.97,209.68 530.06,205.75 527.17,201.81 524.29,197.87 521.42,193.93 518.57,190.00 515.74,186.06 512.91,182.12 510.10,178.18 507.30,174.25 504.52,170.31 501.75,166.37 498.99,162.43 496.25,158.50 493.52,154.56 490.80,150.62 488.10,146.68 485.41,142.75 482.73,138.81 480.06,134.87 477.41,130.93 474.77,127.00 472.15,123.06 469.53,119.12 466.93,115.18 464.34,111.25 461.77,107.31 459.21,103.37 456.66,99.43 454.12,95.50 451.60,91.56 449.08,87.62 446.58,83.68 444.10,79.75 441.62,75.81 439.16,71.87 436.71,67.93 434.27,64.00 431.85,60.06 429.43,56.12 427.03,52.18 424.64,48.25 422.27,44.31 419.90,40.37 417.55,36.43 415.21,32.50 412.88,28.56 410.56,24.62 408.26,20.68 405.96,16.75 403.68,12.81 401.41,8.87 399.16,4.93"/><polyline points="803.33,473.50 799.26,469.56 795.22,465.62 791.19,461.68 787.17,457.75 783.17,453.81 779.20,449.87 775.23,445.93 771.29,442.00 767.36,438.06 763.45,434.12 759.56,430.18 755.68,426.25 751.82,422.31 747.97,418.37 744.15,414.43 740.34,410.50 736.54,406.56 732.77,402.62 729.01,398.68 725.26,394.75 721.53,390.81 717.82,386.87 714.13,382.93 710.45,379.00 706.78,375.06 703.14,371.12 699.51,367.18 695.89,363.25 692.29,359.31 688.71,355.37 685.15,351.43 681.59,347.50 678.06,343.56 674.54,339.62 671.04,335.68 667.55,331.75 664.08,327.81 660.62,323.87 657.18,319.93 653.75,316.00 650.34,312.06 646.94,308.12 643.56,304.18 640.20,300.25 636.85,296.31 633.52,292.37 630.20,288.43 626.89,284.50 623.60,280.56 620.33,276.62 617.07,272.68 613.82,268.75 610.59,264.81 607.38,260.87 604.18,256.93 600.99,253.00 597.82,249.06 594.67,245.12 591.52,241.18 588.40,237.25 585.28,233.31 582.18,229.37 579.10,225.43 576.03,221.50 572.97,217.56 569.93,213.62 566.91,209.68 563.89,205.75 560.89,201.81 557.91,197.87 554.94,193.93 551.98,190.00 549.04,186.06 546.11,182.12 543.19,178.18 540.29,174.25 537.40,170.31 534.53,166.37 531.67,162.43 528.82,158.50 525.98,154.56 523.16,150.62 520.36,146.68 517.56,142.75 514.78,138.81 512.02,134.87 509.26,130.93 506.52,127.00 503.80,123.06 501.08,119.12 498.38,115.18 495.70,111.25 493.02,107.31 490.36,103.37 487.71,99.43 485.08,95.50 482.45,91.56 479.84,87.62 477.25,83.68 474.66,79.75 472.09,75.81 469.53,71.87 466.99,67.93 464.45,64.00 461.93,60.06 459.42,56.12 456.93,52.18 454.44,48.25 451.97,44.31 449.51,40.37 447.07,36.43 444.63,32.50 442.21,28.56 439.80,24.62 437.40,20.68 435.02,16.75 432.64,12.81 430.28,8.87 427.93,4.93"/><polyline points="845.31,473.50 841.11,469.56 836.93,465.62 832.77,461.68 828.62,457.75 824.50,453.81 820.38,449.87 816.29,445.93 812.22,442.00 808.16,438.06 804.12,434.12 800.10,430.18 796.09,426.25 792.10,422.31 788.13,418.37 784.18,414.43 780.24,410.50 776.32,406.56 772.42,402.62 768.53,398.68 764.66,394.75 760.81,390.81 756.97,386.87 753.15,382.93 749.35,379.00 745.56,375.06 741.79,371.12 738.04,367.18 734.30,363.25 730.58,359.31 726.88,355.37 723.19,351.43 719.52,347.50 715.87,343.56 712.23,339.62 708.60,335.68 705.00,331.75 701.41,327.81 697.83,323.87 694.27,319.93 690.73,316.00 687.20,312.06 683.69,308.12 680.19,304.18 676.71,300.25 673.24,296.31 669.80,292.37 666.36,288.43 662.94,284.50 659.54,280.56 656.15,276.62 652.78,272.68 649.42,268.75 646.08,264.81 642.75,260.87 639.44,256.93 636.14,253.00 632.86,249.06 629.59,245.12 626.34,241.18 623.10,237.25 619.88,233.31 616.67,229.37 613.47,225.43 610.30,221.50 607.13,217.56 603.98,213.62 600.85,209.68 597.73,205.75 594.62,201.81 591.53,197.87 588.45,193.93 585.39,190.00 582.34,186.06 579.30,182.12 576.28,178.18 573.27,174.25 570.28,170.31 567.30,166.37 564.34,162.43 561.39,158.50 558.45,154.56 555.53,150.62 552.62,146.68 549.72,142.75 546.84,138.81 543.97,134.87 541.12,130.93 538.28,127.00 535.45,123.06 532.64,119.12 529.84,115.18 527.05,111.25 524.27,107.31 521.51,103.37 518.77,99.43 516.03,95.50 513.31,91.56 510.60,87.62 507.91,83.68 505.23,79.75 502.56,75.81 499.91,71.87 497.26,67.93 494.63,64.00 492.02,60.06 489.41,56.12 486.82,52.18 484.24,48.25 481.68,44.31 479.12,40.37 476.58,36.43 474.06,32.50 471.54,28.56 469.04,24.62 466.55,20.68 464.07,16.75 461.60,12.81 459.15,8.87 456.71,4.93"/><polyline points="887.29,473.50 882.96,469.56 878.65,465.62 874.35,461.68 870.07,457.75 865.82,453.81 861.57,449.87 857.35,445.93 853.15,442.00 848.96,438.06 844.79,434.12 840.64,430.18 836.50,426.25 832.39,422.31 828.29,418.37 824.21,414.43 820.14,410.50 816.10,406.56 812.07,402.62 808.05,398.68 804.06,394.75 800.08,390.81 796.12,386.87 792.18,382.93 788.25,379.00 784.34,375.06 780.45,371.12 776.58,367.18 772.72,363.25 768.87,359.31 765.05,355.37 761.24,351.43 757.45,347.50 753.67,343.56 749.91,339.62 746.17,335.68 742.45,331.75 738.74,327.81 735.04,323.87 731.37,319.93 727.70,316.00 724.06,312.06 720.43,308.12 716.82,304.18 713.22,300.25 709.64,296.31 706.07,292.37 702.53,288.43 698.99,284.50 695.47,280.56 691.97,276.62 688.49,272.68 685.01,268.75 681.56,264.81 678.12,260.87 674.69,256.93 671.29,253.00 667.89,249.06 664.51,245.12 661.15,241.18 657.80,237.25 654.47,233.31 651.15,229.37 647.85,225.43 644.56,221.50 641.29,217.56 638.03,213.62 634.79,209.68 631.56,205.75 628.34,201.81 625.15,197.87 621.96,193.93 618.79,190.00 615.64,186.06 612.50,182.12 609.37,178.18 606.26,174.25 603.16,170.31 600.08,166.37 597.01,162.43 593.96,158.50 590.92,154.56 587.89,150.62 584.88,146.68 581.88,142.75 578.90,138.81 575.93,134.87 572.97,130.93 570.03,127.00 567.10,123.06 564.19,119.12 561.29,115.18 558.40,111.25 555.53,107.31 552.67,103.37 549.82,99.43 546.99,95.50 544.17,91.56 541.37,87.62 538.57,83.68 535.79,79.75 533.03,75.81 530.28,71.87 527.54,67.93 524.81,64.00 522.10,60.06 519.40,56.12 516.72,52.18 514.04,48.25 511.38,44.31 508.74,40.37 506.10,36.43 503.48,32.50 500.87,28.56 498.28,24.62 495.69,20.68 493.12,16.75 490.57,12.81 488.02,8.87 485.49,4.93"/></g>
<g stroke="#11dd11" stroke-width="1" stroke-dasharray="5 1.5"><polyline points="47.24,473.50 37.84,449.67 34.75,441.73 31.67,433.79 28.63,425.85 25.60,417.90 22.61,409.96 19.64,402.02 16.69,394.08 13.78,386.14 10.90,378.20 8.04,370.25 5.22,362.31 2.43,354.37 -0.33,346.43 -3.06,338.49 -5.76,330.54 -8.42,322.60 -11.05,314.66 -13.65,306.72 -16.21,298.78 -18.75,290.84 -21.25,282.89 -23.71,274.95 -26.15,267.01 -28.55,259.07 -30.91,251.13 -33.25,243.19 -35.55,235.24 -37.82,227.30 -40.06,219.36 -42.27,211.42 -44.44,203.48 -46.58,195.54 -48.69,187.59 -50.77,179.65 -52.82,171.71 -54.83,163.77 -56.82,155.83 -58.77,147.88 -60.69,139.94 -62.58,132.00 -64.45,124.06 -66.28,116.12 -68.08,108.18 -69.85,100.23 -71.59,92.29 -73.31,84.35 -74.99,76.41 -76.65,68.47 -78.27,60.53 -79.87,52.58 -81.44,44.64 -82.98,36.70 -84.49,28.76 -85.97,20.82 -87.43,12.88 -88.86,4.93"/><polyline points="68.00,473.50 58.51,449.67 55.36,441.73 52.24,433.79 49.13,425.85 46.03,417.90 42.96,409.96 39.91,402.02 36.89,394.08 33.89,386.14 30.91,378.20 27.96,370.25 25.04,362.31 22.15,354.37 19.28,346.43 16.45,338.49 13.65,330.54 10.88,322.60 8.14,314.66 5.43,306.72 2.75,298.78 0.11,290.84 -2.51,282.89 -5.08,274.95 -7.63,267.01 -10.14,259.07 -12.63,251.13 -15.07,243.19 -17.49,235.24 -19.87,227.30 -22.22,219.36 -24.54,211.42 -26.82,203.48 -29.07,195.54 -31.30,187.59 -33.48,179.65 -35.64,171.71 -37.76,163.77 -39.86,155.83 -41.92,147.88 -43.95,139.94 -45.95,132.00 -47.91,124.06 -49.85,116.12 -51.76,108.18 -53.63,100.23 -55.48,92.29 -57.29,84.35 -59.08,76.41 -60.83,68.47 -62.56,60.53 -64.26,52.58 -65.93,44.64 -67.56,36.70 -69.17,28.76 -70.76,20.82 -72.31,12.88 -73.83,4.93"/><polyline points="88.67,473.50 79.21,449.67 76.05,441.73 72.91,433.79 69.77,425.85 66.64,417.90 63.52,409.96 60.42,402.02 57.33,394.08 54.26,386.14 51.21,378.20 48.18,370.25 45.18,362.31 42.20,354.37 39.24,346.43 36.32,338.49 33.42,330.54 30.54,322.60 27.70,314.66 24.89,306.72 22.10,298.78 19.35,290.84 16.63,282.89 13.94,274.95 11.28,267.01 8.66,259.07 6.07,251.13 3.51,243.19 0.98,235.24 -1.52,227.30 -3.98,219.36 -6.41,211.42 -8.80,203.48 -11.17,195.54 -13.50,187.59 -15.80,179.65 -18.07,171.71 -20.30,163.77 -22.50,155.83 -24.68,147.88 -26.81,139.94 -28.92,132.00 -31.00,124.06 -33.04,116.12 -35.05,108.18 -37.04,100.23 -38.99,92.29 -40.91,84.35 -42.80,76.41 -44.66,68.47 -46.48,60.53 -48.28,52.58 -50.05,44.64 -51.79,36.70 -53.50,28.76 -55.19,20.82 -56.84,12.88 -58.46,4.93"/><polyline points="109.21,473.50 99.95,449.67 96.83,441.73 93.71,433.79 90.59,425.85 87.46,417.90 84.34,409.96 81.22,402.02 78.10,394.08 75.00,386.14 71.90,378.20 68.82,370.25 65.76,362.31 62.71,354.37 59.69,346.43 56.68,338.49 53.70,330.54 50.74,322.60 47.80,314.66 44.89,306.72 42.01,298.78 39.16,290.84 36.34,282.89 33.54,274.95 30.78,267.01 28.04,259.07 25.34,251.13 22.67,243.19 20.03,235.24 17.42,227.30 14.85,219.36 12.31,211.42 9.80,203.48 7.32,195.54 4.87,187.59 2.46,179.65 0.08,171.71 -2.27,163.77 -4.58,155.83 -6.86,147.88 -9.11,139.94 -11.33,132.00 -13.52,124.06 -15.67,116.12 -17.80,108.18 -19.89,100.23 -21.95,92.29 -23.97,84.35 -25.97,76.41 -27.94,68.47 -29.87,60.53 -31.78,52.58 -33.65,44.64 -35.50,36.70 -37.31,28.76 -39.10,20.82 -40.85,12.88 -42.58,4.93"/><polyline points="129.63,473.50 120.74,449.67 117.72,441.73 114.69,433.79 111.64,425.85 108.57,417.90 105.49,409.96 102.40,402.02 99.30,394.08 96.21,386.14 93.11,378.20 90.01,370.25 86.92,362.31 83.84,354.37 80.77,346.43 77.72,338.49 74.67,330.54 71.65,322.60 68.64,314.66 65.66,306.72 62.69,298.78 59.75,290.84 56.83,282.89 53.94,274.95 51.08,267.01 48.25,259.07 45.44,251.13 42.66,243.19 39.91,235.24 37.19,227.30 34.51,219.36 31.85,211.42 29.23,203.48 26.64,195.54 24.08,187.59 21.55,179.65 19.05,171.71 16.59,163.77 14.16,155.83 11.76,147.88 9.40,139.94 7.06,132.00 4.76,124.06 2.49,116.12 0.26,108.18 -1.95,100.23 -4.12,92.29 -6.26,84.35 -8.37,76.41 -10.45,68.47 -12.49,60.53 -14.51,52.58 -16.49,44.64 -18.45,36.70 -20.37,28.76 -22.26,20.82 -24.12,12.88 -25.95,4.93"/><polyline points="149.90,473.50 141.58,449.67 138.74,441.73 135.85,433.79 132.94,425.85 129.99,417.90 127.02,409.96 124.03,402.02 121.02,394.08 117.99,386.14 114.94,378.20 111.89,370.25 108.83,362.31 105.76,354.37 102.69,346.43 99.62,338.49 96.56,330.54 93.50,322.60 90.46,314.66 87.42,306.72 84.40,298.78 81.39,290.84 78.40,282.89 75.44,274.95 72.49,267.01 69.56,259.07 66.66,251.13 63.79,243.19 60.94,235.24 58.11,227.30 55.32,219.36 52.55,211.42 49.82,203.48 47.11,195.54 44.44,187.59 41.79,179.65 39.18,171.71 36.60,163.77 34.05,155.83 31.53,147.88 29.05,139.94 26.60,132.00 24.18,124.06 21.79,116.12 19.43,108.18 17.11,100.23 14.82,92.29 12.56,84.35 10.33,76.41 8.14,68.47 5.97,60.53 3.84,52.58 1.74,44.64 -0.33,36.70 -2.36,28.76 -4.37,20.82 -6.34,12.88 -8.29,4.93"/><polyline points="170.05,473.50 162.48,449.67 159.87,441.73 157.21,433.79 154.50,425.85 151.76,417.90 148.98,409.96 146.15,402.02 143.30,394.08 140.41,386.14 137.50,378.20 134.55,370.25 131.59,362.31 128.61,354.37 125.60,346.43 122.59,338.49 119.56,330.54 116.53,322.60 113.49,314.66 110.46,306.72 107.42,298.78 104.39,290.84 101.36,282.89 98.35,274.95 95.35,267.01 92.36,259.07 89.38,251.13 86.43,243.19 83.50,235.24 80.58,227.30 77.69,219.36 74.83,211.42 71.99,203.48 69.17,195.54 66.39,187.59 63.63,179.65 60.90,171.71 58.20,163.77 55.53,155.83 52.89,147.88 50.28,139.94 47.71,132.00 45.16,124.06 42.65,116.12 40.17,108.18 37.72,100.23 35.30,92.29 32.92,84.35 30.56,76.41 28.24,68.47 25.95,60.53 23.70,52.58 21.47,44.64 19.28,36.70 17.12,28.76 14.99,20.82 12.89,12.88 10.83,4.93"/><polyline points="190.09,473.50 183.43,449.67 181.11,441.73 178.74,433.79 176.32,425.85 173.85,417.90 171.33,409.96 168.76,402.02 166.15,394.08 163.49,386.14 160.79,378.20 158.05,370.25 155.28,362.31 152.46,354.37 149.62,346.43 146.74,338.49 143.84,330.54 140.91,322.60 137.97,314.66 135.00,306.72 132.02,298.78 129.03,290.84 126.03,282.89 123.03,274.95 120.02,267.01 117.02,259.07 114.02,251.13 111.02,243.19 108.04,235.24 105.06,227.30 102.10,219.36 99.16,211.42 96.24,203.48 93.33,195.54 90.45,187.59 87.58,179.65 84.75,171.71 81.93,163.77 79.15,155.83 76.39,147.88 73.66,139.94 70.96,132.00 68.28,124.06 65.64,116.12 63.03,108.18 60.45,100.23 57.90,92.29 55.38,84.35 52.89,76.41 50.44,68.47 48.01,60.53 45.62,52.58 43.26,44.64 40.94,36.70 38.64,28.76 36.38,20.82 34.15,12.88 31.95,4.93"/><polyline points="210.06,473.50 204.41,449.67 202.43,441.73 200.40,433.79 198.32,425.85 196.18,417.90 194.00,409.96 191.76,402.02 189.48,394.08 187.14,386.14 184.75,378.20 182.31,370.25 179.82,362.31 177.28,354.37 174.70,346.43 172.07,338.49 169.40,330.54 166.69,322.60 163.94,314.66 161.15,306.72 158.34,298.78 155.49,290.84 152.62,282.89 149.72,274.95 146.80,267.01 143.87,259.07 140.92,251.13 137.96,243.19 134.99,235.24 132.02,227.30 129.05,219.36 126.08,211.42 123.12,203.48 120.16,195.54 117.22,187.59 114.28,179.65 111.36,171.71 108.46,163.77 105.58,155.83 102.71,147.88 99.87,139.94 97.05,132.00 94.26,124.06 91.49,116.12 88.74,108.18 86.03,100.23 83.34,92.29 80.69,84.35 78.06,76.41 75.46,68.47 72.89,60.53 70.36,52.58 67.85,44.64 65.38,36.70 62.94,28.76 60.53,20.82 58.15,12.88 55.80,4.93"/><polyline points="229.99,473.50 225.40,449.67 223.79,441.73 222.13,433.79 220.42,425.85 218.67,417.90 216.86,409.96 215.01,402.02 213.11,394.08 211.16,386.14 209.15,378.20 207.09,370.25 204.98,362.31 202.82,354.37 200.61,346.43 198.34,338.49 196.02,330.54 193.65,322.60 191.22,314.66 188.75,306.72 186.23,298.78 183.67,290.84 181.06,282.89 178.41,274.95 175.71,267.01 172.98,259.07 170.22,251.13 167.42,243.19 164.60,235.24 161.75,227.30 158.88,219.36 155.99,211.42 153.09,203.48 150.17,195.54 147.25,187.59 144.32,179.65 141.38,171.71 138.45,163.77 135.52,155.83 132.60,147.88 129.69,139.94 126.79,132.00 123.90,124.06 121.03,116.12 118.18,108.18 115.35,100.23 112.54,92.29 109.75,84.35 106.98,76.41 104.24,68.47 101.53,60.53 98.84,52.58 96.19,44.64 93.56,36.70 90.96,28.76 88.39,20.82 85.85,12.88 83.34,4.93"/><polyline points="249.95,473.50 246.40,449.67 245.15,441.73 243.86,433.79 242.53,425.85 241.17,417.90 239.76,409.96 238.32,402.02 236.83,394.08 235.30,386.14 233.72,378.20 232.09,370.25 230.42,362.31 228.70,354.37 226.93,346.43 225.11,338.49 223.23,330.54 221.30,322.60 219.32,314.66 217.29,306.72 215.20,298.78 213.06,290.84 210.87,282.89 208.62,274.95 206.31,267.01 203.96,259.07 201.56,251.13 199.10,243.19 196.60,235.24 194.05,227.30 191.46,219.36 188.83,211.42 186.15,203.48 183.44,195.54 180.70,187.59 177.93,179.65 175.13,171.71 172.31,163.77 169.47,155.83 166.61,147.88 163.74,139.94 160.86,132.00 157.98,124.06 155.09,116.12 152.20,108.18 149.31,100.23 146.43,92.29 143.56,84.35 140.70,76.41 137.85,68.47 135.02,60.53 132.21,52.58 129.41,44.64 126.64,36.70 123.89,28.76 121.16,20.82 118.46,12.88 115.78,4.93"/><polyline points="269.95,473.50 267.37,449.67 266.46,441.73 265.53,433.79 264.57,425.85 263.58,417.90 262.56,409.96 261.51,402.02 260.42,394.08 259.31,386.14 258.16,378.20 256.97,370.25 255.74,362.31 254.48,354.37 253.18,346.43 251.83,338.49 250.44,330.54 249.01,322.60 247.53,314.66 246.00,306.72 244.43,298.78 242.81,290.84 241.13,282.89 239.41,274.95 237.63,267.01 235.80,259.07 233.91,251.13 231.97,243.19 229.98,235.24 227.93,227.30 225.82,219.36 223.66,211.42 221.44,203.48 219.18,195.54 216.85,187.59 214.48,179.65 212.06,171.71 209.59,163.77 207.07,155.83 204.51,147.88 201.91,139.94 199.26,132.00 196.59,124.06 193.88,116.12 191.14,108.18 188.38,100.23 185.60,92.29 182.80,84.35 179.98,76.41 177.15,68.47 174.32,60.53 171.48,52.58 168.64,44.64 165.80,36.70 162.96,28.76 160.14,20.82 157.32,12.88 154.52,4.93"/><polyline points="290.03,473.50 288.32,449.67 287.72,441.73 287.10,433.79 286.47,425.85 285.81,417.90 285.14,409.96 284.45,402.02 283.74,394.08 283.00,386.14 282.24,378.20 281.45,370.25 280.64,362.31 279.81,354.37 278.94,346.43 278.05,338.49 277.13,330.54 276.17,322.60 275.18,314.66 274.16,306.72 273.10,298.78 272.01,290.84 270.88,282.89 269.70,274.95 268.49,267.01 267.23,259.07 265.94,251.13 264.59,243.19 263.20,235.24 261.76,227.30 260.27,219.36 258.73,211.42 257.14,203.48 255.50,195.54 253.80,187.59 252.05,179.65 250.24,171.71 248.38,163.77 246.46,155.83 244.48,147.88 242.45,139.94 240.36,132.00 238.21,124.06 236.01,116.12 233.75,108.18 231.44,100.23 229.08,92.29 226.67,84.35 224.22,76.41 221.71,68.47 219.17,60.53 216.59,52.58 213.97,44.64 211.32,36.70 208.64,28.76 205.93,20.82 203.20,12.88 200.46,4.93"/><polyline points="310.19,473.50 309.23,449.67 308.90,441.73 308.55,433.79 308.20,425.85 307.83,417.90 307.46,409.96 307.07,402.02 306.67,394.08 306.26,386.14 305.84,378.20 305.40,370.25 304.94,362.31 304.47,354.37 303.99,346.43 303.49,338.49 302.96,330.54 302.42,322.60 301.86,314.66 301.28,306.72 300.68,298.78 300.05,290.84 299.40,282.89 298.73,274.95 298.03,267.01 297.30,259.07 296.55,251.13 295.76,243.19 294.94,235.24 294.10,227.30 293.21,219.36 292.30,211.42 291.35,203.48 290.35,195.54 289.33,187.59 288.26,179.65 287.14,171.71 285.99,163.77 284.79,155.83 283.54,147.88 282.25,139.94 280.90,132.00 279.51,124.06 278.07,116.12 276.57,108.18 275.01,100.23 273.40,92.29 271.74,84.35 270.02,76.41 268.24,68.47 266.40,60.53 264.50,52.58 262.54,44.64 260.53,36.70 258.46,28.76 256.33,20.82 254.14,12.88 251.90,4.93"/><polyline points="330.44,473.50 330.11,449.67 329.99,441.73 329.87,433.79 329.75,425.85 329.62,417.90 329.49,409.96 329.35,402.02 329.21,394.08 329.07,386.14 328.91,378.20 328.76,370.25 328.59,362.31 328.42,354.37 328.24,346.43 328.05,338.49 327.85,330.54 327.65,322.60 327.43,314.66 327.21,306.72 326.97,298.78 326.72,290.84 326.46,282.89 326.19,274.95 325.90,267.01 325.60,259.07 325.28,251.13 324.95,243.19 324.60,235.24 324.24,227.30 323.85,219.36 323.45,211.42 323.03,203.48 322.59,195.54 322.12,187.59 321.63,179.65 321.12,171.71 320.59,163.77 320.02,155.83 319.43,147.88 318.82,139.94 318.17,132.00 317.49,124.06 316.78,116.12 316.04,108.18 315.26,100.23 314.44,92.29 313.59,84.35 312.70,76.41 311.76,68.47 310.79,60.53 309.77,52.58 308.71,44.64 307.59,36.70 306.44,28.76 305.23,20.82 303.96,12.88 302.65,4.93"/><polyline points="350.78,473.50 350.95,449.67 351.00,441.73 351.06,433.79 351.12,425.85 351.18,417.90 351.25,409.96 351.31,402.02 351.37,394.08 351.43,386.14 351.49,378.20 351.55,370.25 351.61,362.31 351.67,354.37 351.72,346.43 351.78,338.49 351.83,330.54 351.88,322.60 351.93,314.66 351.97,306.72 352.01,298.78 352.05,290.84 352.08,282.89 352.11,274.95 352.14,267.01 352.15,259.07 352.17,251.13 352.17,243.19 352.17,235.24 352.17,227.30 352.15,219.36 352.13,211.42 352.10,203.48 352.06,195.54 352.01,187.59 351.96,179.65 351.89,171.71 351.81,163.77 351.72,155.83 351.62,147.88 351.50,139.94 351.37,132.00 351.23,124.06 351.07,116.12 350.90,108.18 350.71,100.23 350.50,92.29 350.28,84.35 350.03,76.41 349.77,68.47 349.49,60.53 349.18,52.58 348.85,44.64 348.50,36.70 348.12,28.76 347.72,20.82 347.29,12.88 346.84,4.93"/></g>
<g stroke="#ff1496" stroke-width="1" stroke-dasharray="1.2 3.9"><line x1="131.30" y1="473.50" x2="176.38" y2="275.11"/><line x1="166.96" y1="473.50" x2="209.99" y2="275.11"/><line x1="189.11" y1="473.50" x2="230.82" y2="275.11"/><line x1="205.44" y1="473.50" x2="246.17" y2="275.11"/><line x1="229.39" y1="473.50" x2="268.64" y2="275.11"/><line x1="247.07" y1="473.50" x2="285.22" y2="275.11"/><line x1="261.22" y1="473.50" x2="298.47" y2="275.11"/><line x1="287.91" y1="473.50" x2="323.43" y2="275.11"/><line x1="307.67" y1="473.50" x2="341.88" y2="275.11"/><line x1="323.49" y1="473.50" x2="356.65" y2="275.11"/><line x1="336.76" y1="473.50" x2="369.01" y2="275.11"/><line x1="348.22" y1="473.50" x2="379.69" y2="275.11"/><line x1="358.33" y1="473.50" x2="389.10" y2="275.11"/></g>
</g>
<g fill="#000"><rect x="37" y="84" width="333" height="1"/><rect x="37" y="131" width="333" height="1"/><rect x="37" y="173" width="333" height="1"/><rect x="37" y="210" width="333" height="1"/><rect x="37" y="244" width="333" height="1"/><rect x="37" y="275" width="333" height="1"/><rect x="37" y="303" width="333" height="1"/><rect x="37" y="330" width="333" height="1"/><rect x="37" y="354" width="333" height="1"/><rect x="37" y="377" width="333" height="1"/><rect x="37" y="399" width="333" height="1"/><rect x="37" y="419" width="333" height="1"/><rect x="37" y="438" width="333" height="1"/></g>
<g clip-path="url(#pc)" fill="none" stroke-width="2.2" stroke-linejoin="round">
<polyline stroke="#a8a8a8" points="262.00,40.00 271.90,92.00 279.60,131.50 285.00,170.00 287.60,190.00 290.80,210.30 293.00,244.00 295.00,260.00 297.50,275.40 299.20,303.00 301.40,330.00 303.30,377.00 305.00,400.00 305.90,427.00 306.90,443.50 314.50,456.00 316.00,458.00"/>
<polyline stroke="#ff3030" points="232.30,27.00 244.00,59.00 254.60,95.60 255.80,100.00 262.40,121.40 264.90,131.30 266.00,150.00 267.00,173.00 272.70,210.30 281.00,244.40 286.00,271.30 286.90,275.40 286.40,302.50 289.00,330.20 298.50,354.40 306.10,377.30 313.90,398.60 313.50,408.20 310.30,425.30 308.80,436.80 309.70,446.30 314.50,455.00 316.00,458.00"/>
<polyline stroke="#1030ff" points="201.00,28.00 189.00,84.00 197.40,100.00 205.60,116.50 213.90,131.30 222.90,147.70 231.20,159.30 238.60,170.80 239.50,173.30 246.40,193.00 252.20,210.30 251.00,244.60 249.00,260.00 248.20,275.40 261.30,303.40 250.80,330.20 222.20,352.50 220.30,354.40 218.40,373.50 217.20,377.30 226.70,384.30 242.00,399.60 261.00,410.00 276.30,419.20 295.40,436.80 298.00,439.40 301.10,446.30 303.00,458.00"/>
</g>
<g fill="#000" shape-rendering="crispEdges">
<rect x="39" y="28" width="333" height="2"/>
<rect x="39" y="28" width="2" height="431"/>
<rect x="370" y="28" width="2" height="431"/>
<rect x="39" y="456" width="333" height="3"/>
<rect x="37" y="29" width="2" height="1"/>
<rect x="37" y="456" width="2" height="1"/>
<rect x="372" y="111" width="4" height="1"/>
<rect x="372" y="158" width="4" height="1"/>
<rect x="372" y="203" width="4" height="1"/>
<rect x="372" y="247" width="4" height="1"/>
<rect x="372" y="291" width="4" height="1"/>
<rect x="372" y="335" width="4" height="1"/>
<rect x="372" y="378" width="4" height="1"/>
<rect x="372" y="418" width="4" height="1"/>
<rect x="372" y="443" width="4" height="1"/>
</g>
<g font-family="Liberation Sans, Arial, sans-serif">
<text filter="url(#crisp)" x="34.5" y="33.6" font-size="10" text-anchor="end" fill="#000">300</text>
<text filter="url(#crisp)" x="34.5" y="88.6" font-size="10" text-anchor="end" fill="#000">350</text>
<text filter="url(#crisp)" x="34.5" y="135.6" font-size="10" text-anchor="end" fill="#000">400</text>
<text filter="url(#crisp)" x="34.5" y="177.6" font-size="10" text-anchor="end" fill="#000">450</text>
<text filter="url(#crisp)" x="34.5" y="214.6" font-size="10" text-anchor="end" fill="#000">500</text>
<text filter="url(#crisp)" x="34.5" y="248.6" font-size="10" text-anchor="end" fill="#000">550</text>
<text filter="url(#crisp)" x="34.5" y="279.6" font-size="10" text-anchor="end" fill="#000">600</text>
<text filter="url(#crisp)" x="34.5" y="307.6" font-size="10" text-anchor="end" fill="#000">650</text>
<text filter="url(#crisp)" x="34.5" y="334.6" font-size="10" text-anchor="end" fill="#000">700</text>
<text filter="url(#crisp)" x="34.5" y="358.6" font-size="10" text-anchor="end" fill="#000">750</text>
<text filter="url(#crisp)" x="34.5" y="381.6" font-size="10" text-anchor="end" fill="#000">800</text>
<text filter="url(#crisp)" x="34.5" y="403.6" font-size="10" text-anchor="end" fill="#000">850</text>
<text filter="url(#crisp)" x="34.5" y="423.6" font-size="10" text-anchor="end" fill="#000">900</text>
<text filter="url(#crisp)" x="34.5" y="442.6" font-size="10" text-anchor="end" fill="#000">950</text>
<text filter="url(#crisp)" x="34.5" y="460.6" font-size="10" text-anchor="end" fill="#000">1000</text>
<text filter="url(#crisp)" x="19" y="14" font-size="10" fill="#000">hPa</text>
<text filter="url(#crisp)" x="57.4" y="20" font-size="12.4" textLength="187" lengthAdjust="spacing" fill="#000">5°15&#39;N 356°56&#39;W 30m ASL</text>
<text filter="url(#crisp)" x="409.4" y="20" font-size="12.4" textLength="210.5" lengthAdjust="spacing" fill="#000">26.02.2025 06GMT (Base: 06)</text>
<text filter="url(#crisp)" x="375" y="14" font-size="10.5" fill="#000">km</text>
<text filter="url(#crisp)" x="375" y="28" font-size="10.5" fill="#000">ASL</text>
<text filter="url(#crisp)" x="378.5" y="115" font-size="10.5" fill="#000">8</text>
<text filter="url(#crisp)" x="378.5" y="162" font-size="10.5" fill="#000">7</text>
<text filter="url(#crisp)" x="378.5" y="207" font-size="10.5" fill="#000">6</text>
<text filter="url(#crisp)" x="378.5" y="251" font-size="10.5" fill="#000">5</text>
<text filter="url(#crisp)" x="378.5" y="295" font-size="10.5" fill="#000">4</text>
<text filter="url(#crisp)" x="378.5" y="339" font-size="10.5" fill="#000">3</text>
<text filter="url(#crisp)" x="378.5" y="382" font-size="10.5" fill="#000">2</text>
<text filter="url(#crisp)" x="378.5" y="422" font-size="10.5" fill="#000">1</text>
<text filter="url(#crisp)" x="383" y="447.5" font-size="10.5" fill="#000">LCL</text>
<text filter="url(#crisp)" x="66.8" y="471.1" font-size="10.4" textLength="23" lengthAdjust="spacing" fill="#000">&#8722;30</text>
<text filter="url(#crisp)" x="108.2" y="471.1" font-size="10.4" textLength="23" lengthAdjust="spacing" fill="#000">&#8722;20</text>
<text filter="url(#crisp)" x="149.6" y="471.1" font-size="10.4" textLength="23" lengthAdjust="spacing" fill="#000">&#8722;10</text>
<text filter="url(#crisp)" x="199.0" y="471.1" font-size="10.4" textLength="7" lengthAdjust="spacing" fill="#000">0</text>
<text filter="url(#crisp)" x="236.9" y="471.1" font-size="10.4" textLength="14" lengthAdjust="spacing" fill="#000">10</text>
<text filter="url(#crisp)" x="278.3" y="471.1" font-size="10.4" textLength="14" lengthAdjust="spacing" fill="#000">20</text>
<text filter="url(#crisp)" x="319.7" y="471.1" font-size="10.4" textLength="14" lengthAdjust="spacing" fill="#000">30</text>
<text filter="url(#crisp)" x="361.1" y="471.1" font-size="10.4" textLength="14" lengthAdjust="spacing" fill="#000">40</text>
<text filter="url(#crisp)" x="114.8" y="482.6" font-size="12" textLength="201" lengthAdjust="spacing" fill="#000">Dewpoint / Temperature (°C)</text>
<text filter="url(#crisp2)" transform="translate(398.5,328) rotate(-90)" font-size="10.5" textLength="105" lengthAdjust="spacing">Mixing Ratio (g/kg)</text>
<text filter="url(#crisp)" x="178.5" y="273.2" font-size="8.5" text-anchor="middle" fill="#ff1496">1</text>
<text filter="url(#crisp)" x="211.9" y="273.2" font-size="8.5" text-anchor="middle" fill="#ff1496">2</text>
<text filter="url(#crisp)" x="233" y="273.2" font-size="8.5" text-anchor="middle" fill="#ff1496">3</text>
<text filter="url(#crisp)" x="248.5" y="273.2" font-size="8.5" text-anchor="middle" fill="#ff1496">4</text>
<text filter="url(#crisp)" x="271" y="273.2" font-size="8.5" text-anchor="middle" fill="#ff1496">6</text>
<text filter="url(#crisp)" x="287.1" y="273.2" font-size="8.5" text-anchor="middle" fill="#ff1496">8</text>
<text filter="url(#crisp)" x="304.1" y="273.2" font-size="8.5" text-anchor="middle" fill="#ff1496">10</text>
<text filter="url(#crisp)" x="329.6" y="273.2" font-size="8.5" text-anchor="middle" fill="#ff1496">15</text>
<text filter="url(#crisp)" x="347.5" y="273.2" font-size="8.5" text-anchor="middle" fill="#ff1496">20</text>
<text filter="url(#crisp)" x="362.8" y="273.2" font-size="8.5" text-anchor="middle" fill="#ff1496">25</text>
</g>
<rect x="243" y="30" width="127" height="65" fill="#fff"/>
<g shape-rendering="crispEdges" fill="#000"><rect x="243" y="30" width="1" height="63"/><rect x="243" y="92" width="127" height="1"/></g>
<line x1="245.3" y1="35.20" x2="258" y2="35.20" stroke="#ff3030" stroke-width="2.6"/>
<text filter="url(#crisp)" x="263.5" y="39.50" font-size="10.4" textLength="66" lengthAdjust="spacing" font-family="Liberation Sans, Arial, sans-serif">Temperature</text>
<line x1="245.3" y1="43.95" x2="258" y2="43.95" stroke="#1030ff" stroke-width="2.6"/>
<text filter="url(#crisp)" x="263.5" y="48.00" font-size="10.4" textLength="47.2" lengthAdjust="spacing" font-family="Liberation Sans, Arial, sans-serif">Dewpoint</text>
<line x1="245.3" y1="52.70" x2="258" y2="52.70" stroke="#a8a8a8" stroke-width="2.6"/>
<text filter="url(#crisp)" x="263.5" y="56.50" font-size="10.4" textLength="91.7" lengthAdjust="spacing" font-family="Liberation Sans, Arial, sans-serif">Parcel Trajectory</text>
<line x1="245.3" y1="61.45" x2="258" y2="61.45" stroke="#ff8a1e" stroke-width="1.2"/>
<text filter="url(#crisp)" x="263.5" y="65.00" font-size="10.4" textLength="62.4" lengthAdjust="spacing" font-family="Liberation Sans, Arial, sans-serif">Dry Adiabat</text>
<line x1="245.3" y1="70.20" x2="258" y2="70.20" stroke="#11dd11" stroke-width="1.2"/>
<text filter="url(#crisp)" x="263.5" y="73.50" font-size="10.4" textLength="63.8" lengthAdjust="spacing" font-family="Liberation Sans, Arial, sans-serif">Wet Adiabat</text>
<line x1="245.3" y1="78.95" x2="258" y2="78.95" stroke="#1e96ff" stroke-width="1.2"/>
<text filter="url(#crisp)" x="263.5" y="82.00" font-size="10.4" textLength="46.3" lengthAdjust="spacing" font-family="Liberation Sans, Arial, sans-serif">Isotherm</text>
<rect x="245.5" y="87.2" width="1.3" height="1.3" fill="#ff1496"/>
<rect x="249" y="87.2" width="1.3" height="1.3" fill="#ff1496"/>
<rect x="252.5" y="87.2" width="1.3" height="1.3" fill="#ff1496"/>
<rect x="256" y="87.2" width="1.3" height="1.3" fill="#ff1496"/>
<text filter="url(#crisp)" x="263.5" y="90.50" font-size="10.4" textLength="65" lengthAdjust="spacing" font-family="Liberation Sans, Arial, sans-serif">Mixing Ratio</text>
<rect x="428" y="31" width="1" height="425" fill="#000" shape-rendering="crispEdges"/>
<polygon points="427,28 431,28.5 428.5,31.5 427,31.5" fill="#10dd10"/>
<polyline points="428.00,31.00 420.00,46.50 411.20,42.20" fill="none" stroke="#10dd10" stroke-width="1.2" stroke-linecap="square"/>
<polyline points="421.30,44.30 416.20,41.80" fill="none" stroke="#10dd10" stroke-width="1.2" stroke-linecap="square"/>
<circle cx="429" cy="131.8" r="1.8" fill="#18d088"/>
<polyline points="428.50,132.00 418.00,134.00 409.40,135.00 407.50,127.20" fill="none" stroke="#18d088" stroke-width="1.2" stroke-linecap="square"/>
<polyline points="411.30,134.60 410.50,126.50" fill="none" stroke="#18d088" stroke-width="1.2" stroke-linecap="square"/>
<circle cx="429" cy="211" r="2" fill="#98e030"/>
<polyline points="429.00,210.80 418.00,210.30 408.30,209.60 408.30,205.00 409.50,201.00" fill="none" stroke="#98e030" stroke-width="1.2" stroke-linecap="square"/>
<circle cx="428.8" cy="329.9" r="2.2" fill="#10dd10"/>
<polyline points="428.80,329.90 434.00,325.00 442.00,318.80" fill="none" stroke="#10dd10" stroke-width="1.2" stroke-linecap="square"/>
<polyline points="443.00,317.30 449.70,323.30" fill="none" stroke="#10dd10" stroke-width="1.2" stroke-linecap="square"/>
<polyline points="441.60,319.30 444.50,321.80" fill="none" stroke="#10dd10" stroke-width="1.2" stroke-linecap="square"/>
<circle cx="428.8" cy="398.8" r="1.8" fill="#98e030"/>
<polyline points="427.60,398.00 427.40,384.00 426.50,379.50 429.00,379.00 432.00,378.00 435.00,377.40" fill="none" stroke="#98e030" stroke-width="1.2" stroke-linecap="square"/>
<circle cx="429" cy="419" r="1.8" fill="#e8d020"/>
<polyline points="429.00,419.50 409.30,424.30" fill="none" stroke="#e8d020" stroke-width="1.2" stroke-linecap="square"/>
<polyline points="411.30,420.30 412.30,424.80" fill="none" stroke="#e8d020" stroke-width="1.2" stroke-linecap="square"/>
<circle cx="429" cy="429" r="1.9" fill="#98e030"/>
<polyline points="429.00,429.00 413.00,439.80 407.40,433.20" fill="none" stroke="#98e030" stroke-width="1.2" stroke-linecap="square"/>
<rect x="427" y="455" width="4" height="4" fill="#98e030"/>
<polyline points="429.50,459.00 414.40,472.40 413.60,467.60" fill="none" stroke="#e8d020" stroke-width="1.2" stroke-linecap="square"/>
<polyline points="428.00,458.00 414.40,470.60 408.20,464.50" fill="none" stroke="#98e030" stroke-width="1.2" stroke-linecap="square"/>
<g shape-rendering="crispEdges" fill="#000"><rect x="456" y="28" width="116" height="2"/><rect x="456" y="28" width="2" height="116"/><rect x="570" y="28" width="2" height="116"/><rect x="456" y="142" width="116" height="2"/></g>
<defs><clipPath id="hc"><rect x="458" y="30" width="112" height="112"/></clipPath></defs>
<g clip-path="url(#hc)">
<circle cx="514.5" cy="86.5" r="19" fill="none" stroke="#a0a0a0" stroke-width="1"/>
<circle cx="514.5" cy="86.5" r="38" fill="none" stroke="#a0a0a0" stroke-width="1"/>
<circle cx="514.5" cy="86.5" r="57" fill="none" stroke="#a0a0a0" stroke-width="1"/>
<g fill="#000" shape-rendering="crispEdges">
<rect x="458" y="86" width="112" height="1.2"/><rect x="514" y="30" width="1.2" height="112"/>
<rect x="457.0" y="84.8" width="1" height="3.6"/>
<rect x="512.7" y="29.0" width="3.6" height="1"/>
<rect x="463.3" y="84.8" width="1" height="3.6"/>
<rect x="512.7" y="35.3" width="3.6" height="1"/>
<rect x="469.7" y="84.8" width="1" height="3.6"/>
<rect x="512.7" y="41.7" width="3.6" height="1"/>
<rect x="476.0" y="84.8" width="1" height="3.6"/>
<rect x="512.7" y="48.0" width="3.6" height="1"/>
<rect x="482.3" y="84.8" width="1" height="3.6"/>
<rect x="512.7" y="54.3" width="3.6" height="1"/>
<rect x="488.7" y="84.8" width="1" height="3.6"/>
<rect x="512.7" y="60.7" width="3.6" height="1"/>
<rect x="495.0" y="84.8" width="1" height="3.6"/>
<rect x="512.7" y="67.0" width="3.6" height="1"/>
<rect x="501.3" y="84.8" width="1" height="3.6"/>
<rect x="512.7" y="73.3" width="3.6" height="1"/>
<rect x="507.7" y="84.8" width="1" height="3.6"/>
<rect x="512.7" y="79.7" width="3.6" height="1"/>
<rect x="520.3" y="84.8" width="1" height="3.6"/>
<rect x="512.7" y="92.3" width="3.6" height="1"/>
<rect x="526.7" y="84.8" width="1" height="3.6"/>
<rect x="512.7" y="98.7" width="3.6" height="1"/>
<rect x="533.0" y="84.8" width="1" height="3.6"/>
<rect x="512.7" y="105.0" width="3.6" height="1"/>
<rect x="539.3" y="84.8" width="1" height="3.6"/>
<rect x="512.7" y="111.3" width="3.6" height="1"/>
<rect x="545.7" y="84.8" width="1" height="3.6"/>
<rect x="512.7" y="117.7" width="3.6" height="1"/>
<rect x="552.0" y="84.8" width="1" height="3.6"/>
<rect x="512.7" y="124.0" width="3.6" height="1"/>
<rect x="558.3" y="84.8" width="1" height="3.6"/>
<rect x="512.7" y="130.3" width="3.6" height="1"/>
<rect x="564.7" y="84.8" width="1" height="3.6"/>
<rect x="512.7" y="136.7" width="3.6" height="1"/>
<rect x="571.0" y="84.8" width="1" height="3.6"/>
<rect x="512.7" y="143.0" width="3.6" height="1"/>
</g>
<text filter="url(#crisp2)" x="501.1" y="99.9" font-size="8" fill="#a0a0a0" text-anchor="middle" dominant-baseline="central" transform="rotate(-45 501.1 99.9)" font-family="Liberation Sans, Arial, sans-serif">10</text>
<text filter="url(#crisp2)" x="487.6" y="113.4" font-size="8" fill="#a0a0a0" text-anchor="middle" dominant-baseline="central" transform="rotate(-45 487.6 113.4)" font-family="Liberation Sans, Arial, sans-serif">20</text>
<text filter="url(#crisp2)" x="474.2" y="126.8" font-size="8" fill="#a0a0a0" text-anchor="middle" dominant-baseline="central" transform="rotate(-45 474.2 126.8)" font-family="Liberation Sans, Arial, sans-serif">30</text>
<g stroke="#000" stroke-width="1.2" fill="none">
<polyline points="502,98.2 528,87.2 535.5,82"/>
<polyline points="503.5,97.2 513.6,94.6 521.8,81.5"/>
<polyline points="514.5,89 517,86.5"/>
</g>
<rect x="534.3" y="79.8" width="3.2" height="3.2" fill="#000"/>
<polygon points="519,79.3 524.8,79.3 521.8,83" fill="#000"/>
<polygon points="512.3,86 516.8,86 514.6,89.5" fill="#000"/>
<rect x="502" y="97" width="3" height="2" fill="#000"/>
</g>
<text filter="url(#crisp)" x="460.8" y="38.8" font-size="10.5" font-family="Liberation Sans, Arial, sans-serif">kt</text>
<g shape-rendering="crispEdges" fill="#000">
<rect x="457" y="155" width="127" height="1"/>
<rect x="457" y="155" width="1" height="45"/><rect x="583" y="155" width="1" height="45"/>
<rect x="457" y="201" width="127" height="1"/>
<rect x="457" y="201" width="1" height="102"/><rect x="583" y="201" width="1" height="102"/>
<rect x="457" y="304" width="127" height="1"/>
<rect x="457" y="304" width="1" height="163"/><rect x="583" y="304" width="1" height="163"/>
<rect x="457" y="392" width="127" height="1"/>
<rect x="457" y="466" width="127" height="1"/>
</g>
<g font-family="Liberation Sans, Arial, sans-serif" font-size="10.6">
<text filter="url(#crisp)" x="460.8" y="167.8">K</text>
<text filter="url(#crisp)" x="549.8" y="167.8">20</text>
<text filter="url(#crisp)" x="460.8" y="181.4" textLength="70.6" lengthAdjust="spacing">Totals Totals</text>
<text filter="url(#crisp)" x="549.8" y="181.4">35</text>
<text filter="url(#crisp)" x="460.8" y="195.8" textLength="48.7" lengthAdjust="spacing">PW (cm)</text>
<text filter="url(#crisp)" x="549.8" y="195.8" textLength="24" lengthAdjust="spacing">3.68</text>
<text filter="url(#crisp)" x="494.7" y="213.6" textLength="41.9" lengthAdjust="spacing">Surface</text>
<text filter="url(#crisp)" x="460.8" y="227.8" textLength="57.6" lengthAdjust="spacing">Temp (°C)</text>
<text filter="url(#crisp)" x="549.8" y="227.8" textLength="24" lengthAdjust="spacing">26.8</text>
<text filter="url(#crisp)" x="460.8" y="242.0" textLength="57.6" lengthAdjust="spacing">Dewp (°C)</text>
<text filter="url(#crisp)" x="549.8" y="242.0" textLength="24" lengthAdjust="spacing">24.1</text>
<text filter="url(#crisp)" x="461" y="256.2"><tspan font-weight="bold" font-style="italic" font-size="11.5" font-family="Liberation Serif, serif">θ</tspan><tspan font-size="7.5" font-weight="bold" dy="1.5">e</tspan><tspan dy="-1.5">(K)</tspan></text>
<text filter="url(#crisp)" x="549.8" y="256.2">355</text>
<text filter="url(#crisp)" x="460.8" y="270.4" textLength="66.7" lengthAdjust="spacing">Lifted Index</text>
<text filter="url(#crisp)" x="549.8" y="270.4">&#8722;4</text>
<text filter="url(#crisp)" x="460.8" y="284.6" textLength="50.6" lengthAdjust="spacing">CAPE (J)</text>
<text filter="url(#crisp)" x="549.8" y="284.6" textLength="27.4" lengthAdjust="spacing">1086</text>
<text filter="url(#crisp)" x="460.8" y="298.8" textLength="45.7" lengthAdjust="spacing">CIN (J)</text>
<text filter="url(#crisp)" x="549.8" y="298.8">10</text>
<text filter="url(#crisp)" x="473" y="316.6" textLength="80.7" lengthAdjust="spacing">Most Unstable</text>
<text filter="url(#crisp)" x="460.8" y="330.8" textLength="85.4" lengthAdjust="spacing">Pressure (mb)</text>
<text filter="url(#crisp)" x="549.8" y="330.8" textLength="27.4" lengthAdjust="spacing">1005</text>
<text filter="url(#crisp)" x="461" y="345.0"><tspan font-weight="bold" font-style="italic" font-size="11.5" font-family="Liberation Serif, serif">θ</tspan><tspan font-size="7.5" font-weight="bold" dy="1.5">e</tspan><tspan dy="-1.5"> (K)</tspan></text>
<text filter="url(#crisp)" x="549.8" y="345.0">355</text>
<text filter="url(#crisp)" x="460.8" y="359.2" textLength="66.7" lengthAdjust="spacing">Lifted Index</text>
<text filter="url(#crisp)" x="549.8" y="359.2">&#8722;4</text>
<text filter="url(#crisp)" x="460.8" y="373.4" textLength="50.6" lengthAdjust="spacing">CAPE (J)</text>
<text filter="url(#crisp)" x="549.8" y="373.4" textLength="27.4" lengthAdjust="spacing">1086</text>
<text filter="url(#crisp)" x="460.8" y="387.6" textLength="45.7" lengthAdjust="spacing">CIN (J)</text>
<text filter="url(#crisp)" x="549.8" y="387.6">10</text>
<text filter="url(#crisp)" x="485.8" y="405.1" textLength="58.6" lengthAdjust="spacing">Hodograph</text>
<text filter="url(#crisp)" x="460.8" y="419.6" textLength="13.6" lengthAdjust="spacing">EH</text>
<text filter="url(#crisp)" x="549.8" y="419.6">40</text>
<text filter="url(#crisp)" x="460.8" y="433.8" textLength="29" lengthAdjust="spacing">SREH</text>
<text filter="url(#crisp)" x="549.8" y="433.8">24</text>
<text filter="url(#crisp)" x="460.8" y="448.0" textLength="36.8" lengthAdjust="spacing">StmDir</text>
<text filter="url(#crisp)" x="549.8" y="448.0">343°</text>
<text filter="url(#crisp)" x="460.8" y="462.3" textLength="67.9" lengthAdjust="spacing">StmSpd (kt)</text>
<text filter="url(#crisp)" x="549.8" y="462.3">3</text>
</g>
<text filter="url(#crisp)" x="449.2" y="484.3" font-size="13.5" font-family="Liberation Sans, Arial, sans-serif">©</text>
<text filter="url(#crisp)" x="463.6" y="482.7" font-size="11.5" stroke="#000" stroke-width="0.15" textLength="134.5" lengthAdjust="spacing" font-family="Liberation Sans, Arial, sans-serif">weatheronline.co.uk</text>
</svg>
</body></html>
